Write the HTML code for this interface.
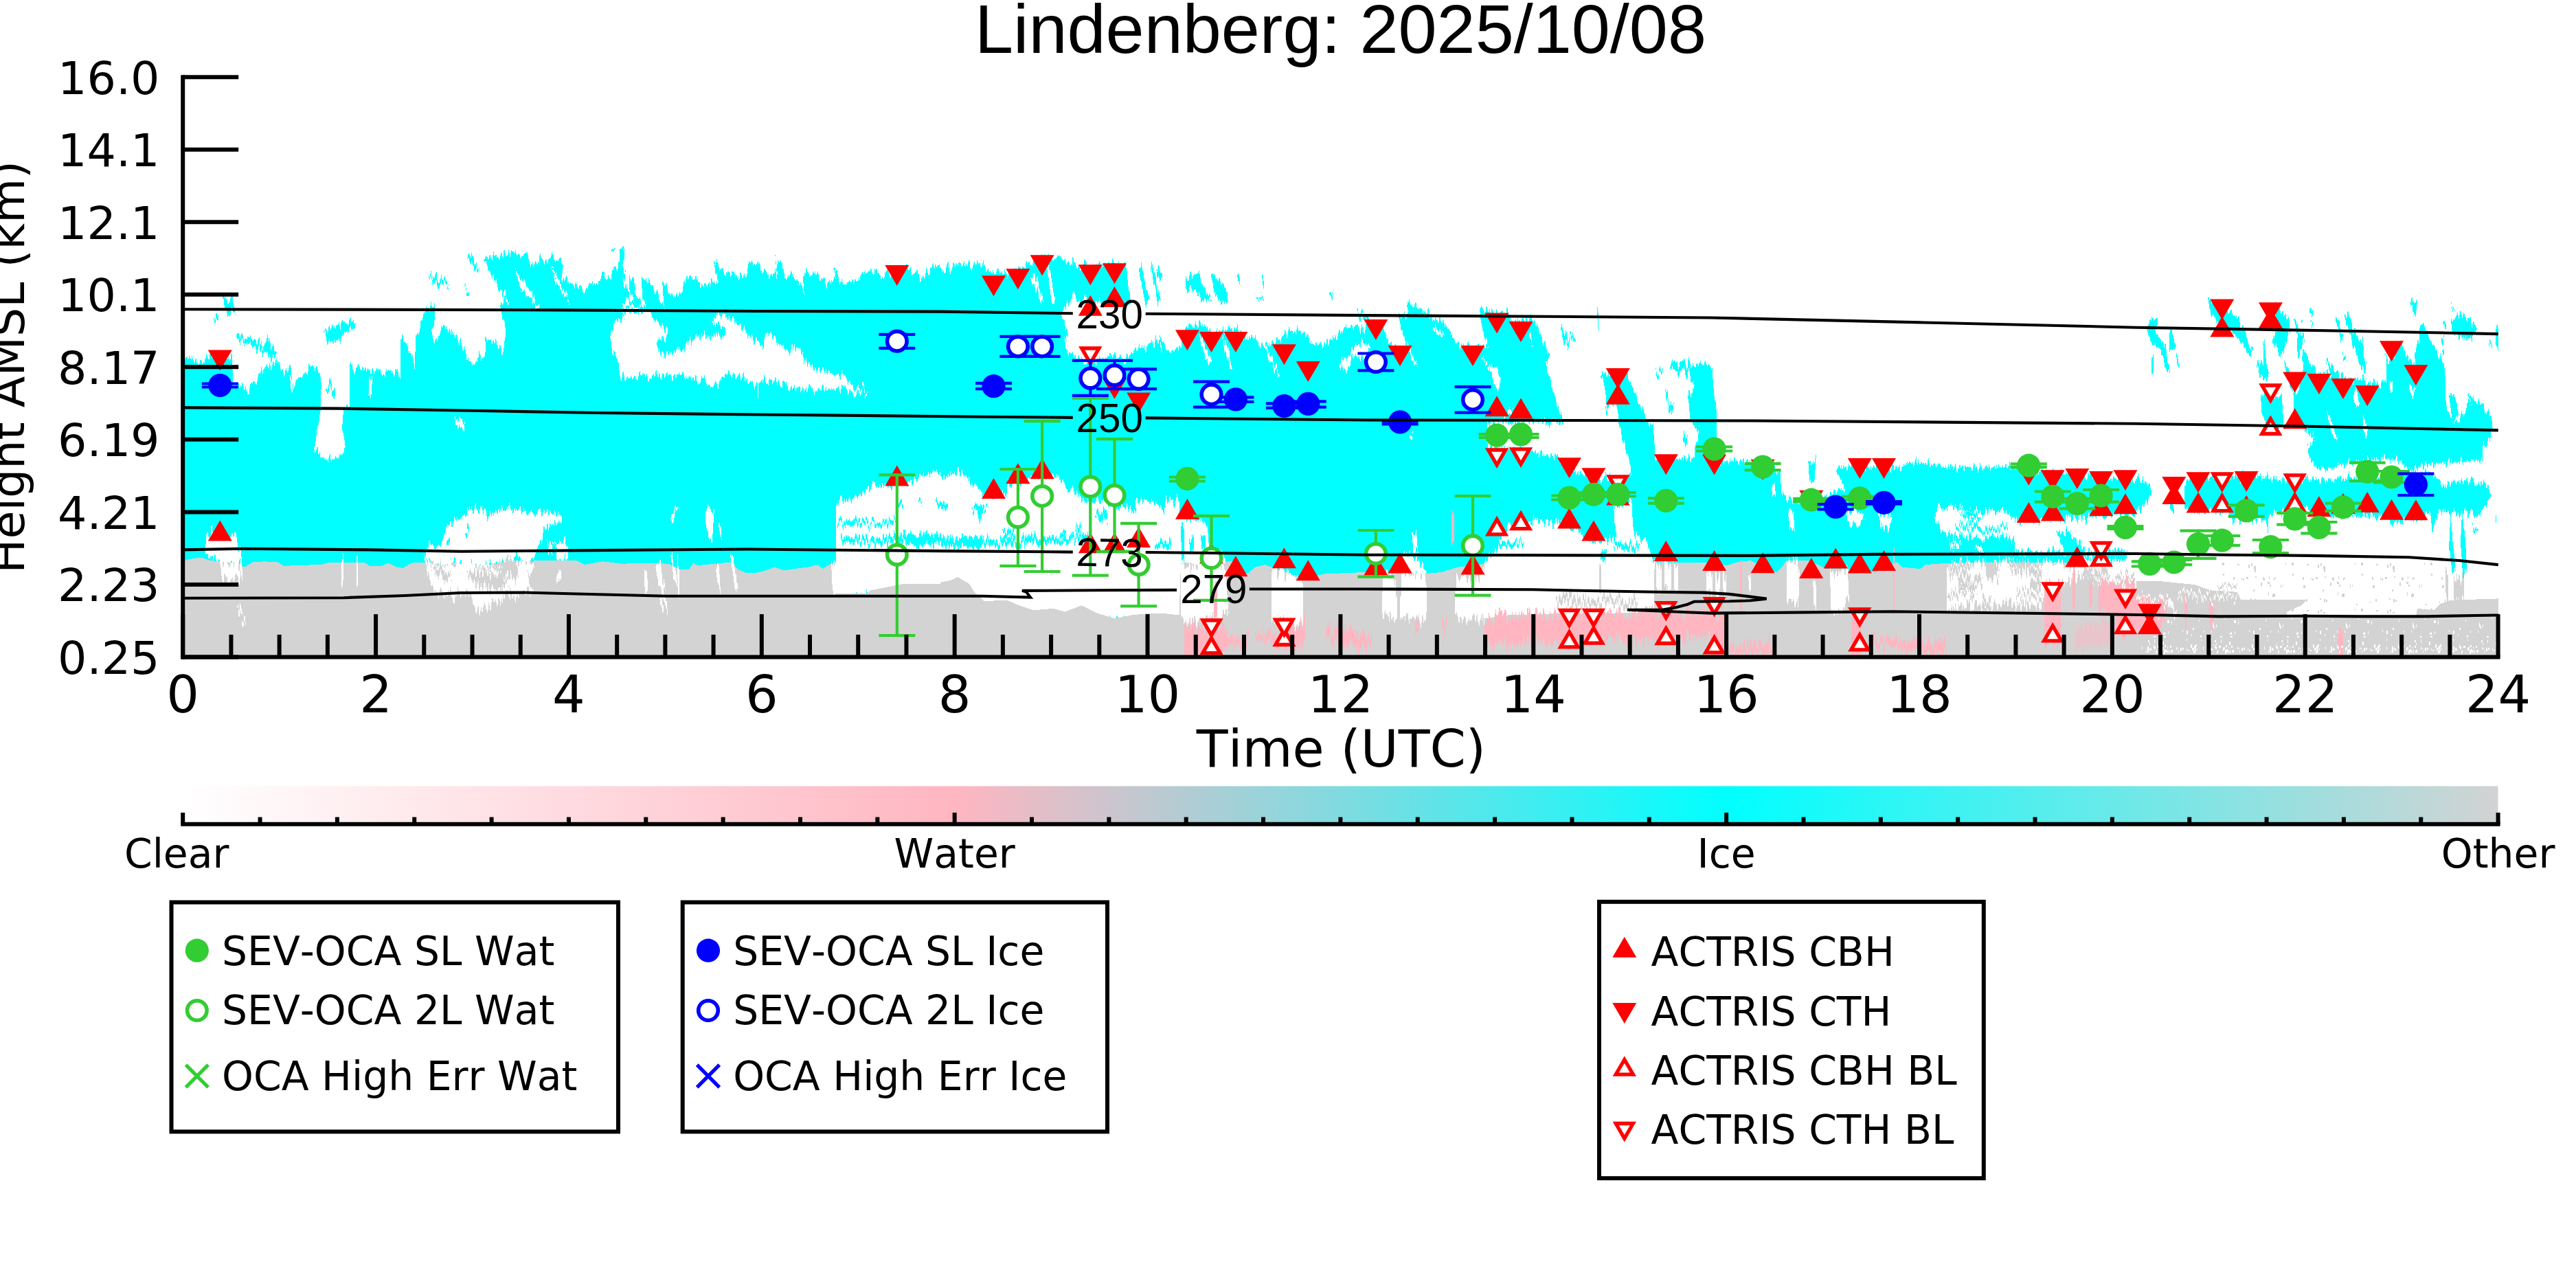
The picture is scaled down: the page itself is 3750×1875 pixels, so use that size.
<!DOCTYPE html>
<html><head><meta charset="utf-8"><title>Lindenberg: 2025/10/08</title>
<style>
html,body{margin:0;padding:0;background:#fff;}
svg{display:block;}
text{font-family:"DejaVu Sans","Liberation Sans",sans-serif;fill:#000;font-kerning:none;}
.lib{font-family:"Liberation Sans","DejaVu Sans",sans-serif;}
</style></head><body>
<svg width="3750" height="1875" viewBox="0 0 3750 1875">
<rect width="3750" height="1875" fill="#fff"/>
<defs>
<clipPath id="ax"><rect x="266.2" y="112.3" width="3371.0" height="844.1"/></clipPath>
<linearGradient id="cb" x1="0" x2="1" y1="0" y2="0">
<stop offset="0" stop-color="#ffffff"/><stop offset="0.3333" stop-color="#ffb6c1"/>
<stop offset="0.6667" stop-color="#00ffff"/><stop offset="1" stop-color="#d3d3d3"/>
</linearGradient>
<filter id="hair" filterUnits="userSpaceOnUse" x="266.2" y="112.3" width="3371.4" height="844.1" color-interpolation-filters="sRGB">
<feTurbulence type="fractalNoise" baseFrequency="0.33 0.006" numOctaves="2" seed="7" result="n"/>
<feColorMatrix in="n" type="matrix" values="0 0 0 0 0.5  0 1 0 0 0  0 0 1 0 0  0 0 0 0 1" result="n2"/>
<feDisplacementMap in="SourceGraphic" in2="n2" scale="30" xChannelSelector="R" yChannelSelector="G"/>
</filter>
<filter id="hair2" filterUnits="userSpaceOnUse" x="266.2" y="112.3" width="3371.4" height="844.1" color-interpolation-filters="sRGB">
<feTurbulence type="fractalNoise" baseFrequency="0.4 0.004" numOctaves="2" seed="11" result="n"/>
<feColorMatrix in="n" type="matrix" values="0 0 0 0 0.5  0 1 0 0 0  0 0 1 0 0  0 0 0 0 1" result="n2"/>
<feDisplacementMap in="SourceGraphic" in2="n2" scale="44" xChannelSelector="R" yChannelSelector="G"/>
</filter>
<pattern id="spk1" width="97" height="41" patternUnits="userSpaceOnUse"><rect x="79" y="16" width="2" height="5" fill="#fff"/><rect x="3" y="29" width="1" height="2" fill="#fff"/><rect x="20" y="7" width="2" height="4" fill="#fff"/><rect x="31" y="24" width="3" height="2" fill="#fff"/><rect x="73" y="15" width="1" height="3" fill="#fff"/><rect x="52" y="17" width="1" height="4" fill="#fff"/><rect x="20" y="4" width="1" height="5" fill="#fff"/><rect x="79" y="28" width="1" height="3" fill="#fff"/><rect x="0" y="0" width="1" height="3" fill="#fff"/><rect x="21" y="10" width="2" height="3" fill="#fff"/><rect x="25" y="34" width="1" height="3" fill="#fff"/><rect x="88" y="12" width="2" height="3" fill="#fff"/><rect x="2" y="23" width="2" height="3" fill="#fff"/><rect x="18" y="16" width="1" height="3" fill="#fff"/><rect x="38" y="37" width="1" height="5" fill="#fff"/><rect x="86" y="21" width="1" height="3" fill="#fff"/><rect x="45" y="19" width="2" height="3" fill="#fff"/><rect x="23" y="30" width="2" height="3" fill="#fff"/><rect x="7" y="16" width="1" height="3" fill="#fff"/><rect x="51" y="1" width="3" height="4" fill="#fff"/><rect x="46" y="24" width="3" height="2" fill="#fff"/><rect x="57" y="2" width="1" height="5" fill="#fff"/><rect x="25" y="7" width="1" height="4" fill="#fff"/><rect x="44" y="32" width="2" height="5" fill="#fff"/><rect x="32" y="29" width="1" height="5" fill="#fff"/><rect x="47" y="18" width="1" height="4" fill="#fff"/></pattern><pattern id="spk2" width="89" height="14" patternUnits="userSpaceOnUse"><rect x="11" y="3" width="2" height="5" fill="#fff"/><rect x="78" y="5" width="1" height="3" fill="#fff"/><rect x="35" y="8" width="1" height="3" fill="#fff"/><rect x="40" y="4" width="1" height="2" fill="#fff"/><rect x="80" y="2" width="2" height="4" fill="#fff"/><rect x="20" y="0" width="1" height="5" fill="#fff"/><rect x="68" y="6" width="1" height="3" fill="#fff"/><rect x="76" y="5" width="2" height="4" fill="#fff"/><rect x="83" y="6" width="1" height="2" fill="#fff"/><rect x="81" y="0" width="2" height="3" fill="#fff"/><rect x="26" y="2" width="3" height="3" fill="#fff"/><rect x="80" y="6" width="1" height="3" fill="#fff"/><rect x="55" y="5" width="1" height="2" fill="#fff"/><rect x="53" y="4" width="1" height="4" fill="#fff"/><rect x="79" y="2" width="3" height="4" fill="#fff"/><rect x="62" y="5" width="2" height="3" fill="#fff"/><rect x="37" y="7" width="2" height="3" fill="#fff"/><rect x="14" y="6" width="3" height="3" fill="#fff"/><rect x="80" y="7" width="2" height="3" fill="#fff"/><rect x="11" y="7" width="2" height="5" fill="#fff"/><rect x="70" y="8" width="2" height="2" fill="#fff"/><rect x="45" y="9" width="1" height="3" fill="#fff"/><rect x="46" y="8" width="2" height="4" fill="#fff"/><rect x="33" y="4" width="2" height="3" fill="#fff"/><rect x="74" y="0" width="2" height="5" fill="#fff"/><rect x="32" y="5" width="2" height="4" fill="#fff"/><rect x="36" y="8" width="2" height="3" fill="#fff"/><rect x="35" y="10" width="2" height="4" fill="#fff"/><rect x="44" y="2" width="2" height="3" fill="#fff"/><rect x="42" y="8" width="1" height="5" fill="#fff"/><rect x="21" y="3" width="2" height="4" fill="#fff"/><rect x="36" y="1" width="2" height="3" fill="#fff"/><rect x="78" y="9" width="3" height="4" fill="#fff"/><rect x="38" y="9" width="3" height="3" fill="#fff"/><rect x="3" y="3" width="1" height="5" fill="#fff"/><rect x="56" y="9" width="1" height="3" fill="#fff"/><rect x="23" y="10" width="1" height="4" fill="#fff"/><rect x="28" y="2" width="1" height="3" fill="#fff"/><rect x="14" y="5" width="1" height="4" fill="#fff"/><rect x="24" y="8" width="1" height="4" fill="#fff"/><rect x="59" y="5" width="2" height="5" fill="#fff"/><rect x="9" y="9" width="1" height="3" fill="#fff"/></pattern><pattern id="spk3" width="101" height="67" patternUnits="userSpaceOnUse"><rect x="91" y="47" width="1" height="3" fill="#d3d3d3"/><rect x="51" y="35" width="2" height="2" fill="#d3d3d3"/><rect x="88" y="47" width="1" height="5" fill="#d3d3d3"/><rect x="78" y="38" width="1" height="3" fill="#d3d3d3"/><rect x="69" y="43" width="3" height="3" fill="#d3d3d3"/><rect x="45" y="16" width="2" height="4" fill="#d3d3d3"/><rect x="72" y="47" width="2" height="3" fill="#d3d3d3"/><rect x="20" y="48" width="3" height="4" fill="#d3d3d3"/><rect x="25" y="17" width="3" height="2" fill="#d3d3d3"/><rect x="44" y="0" width="2" height="2" fill="#d3d3d3"/><rect x="41" y="18" width="2" height="5" fill="#d3d3d3"/><rect x="48" y="54" width="2" height="3" fill="#d3d3d3"/><rect x="63" y="37" width="2" height="4" fill="#d3d3d3"/><rect x="49" y="20" width="3" height="5" fill="#d3d3d3"/><rect x="33" y="38" width="2" height="3" fill="#d3d3d3"/><rect x="53" y="2" width="2" height="3" fill="#d3d3d3"/><rect x="62" y="36" width="1" height="4" fill="#d3d3d3"/><rect x="3" y="15" width="3" height="4" fill="#d3d3d3"/><rect x="31" y="37" width="1" height="3" fill="#d3d3d3"/><rect x="50" y="1" width="2" height="5" fill="#d3d3d3"/><rect x="71" y="35" width="1" height="4" fill="#d3d3d3"/><rect x="4" y="31" width="2" height="3" fill="#d3d3d3"/><rect x="19" y="36" width="2" height="4" fill="#d3d3d3"/><rect x="77" y="60" width="3" height="5" fill="#d3d3d3"/><rect x="95" y="15" width="1" height="3" fill="#d3d3d3"/><rect x="38" y="36" width="3" height="3" fill="#d3d3d3"/><rect x="78" y="37" width="3" height="2" fill="#d3d3d3"/><rect x="59" y="44" width="2" height="5" fill="#d3d3d3"/><rect x="16" y="4" width="1" height="3" fill="#d3d3d3"/><rect x="70" y="58" width="1" height="5" fill="#d3d3d3"/><rect x="24" y="1" width="2" height="4" fill="#d3d3d3"/><rect x="76" y="61" width="2" height="4" fill="#d3d3d3"/><rect x="50" y="25" width="2" height="4" fill="#d3d3d3"/><rect x="97" y="8" width="2" height="2" fill="#d3d3d3"/></pattern>
</defs>
<g clip-path="url(#ax)"><g filter="url(#hair)" shape-rendering="crispEdges">
<polygon fill="#00ffff" points="263.2,522.9 274.1,519.3 286.1,528.9 298.1,522.9 304.2,516.9 337.9,522.9 339.1,556.6 346.3,563.8 360.7,571.1 370.3,556.6 381.2,537.4 394.4,530.1 404.0,525.3 413.7,542.2 423.3,535.0 426.9,566.2 432.9,551.8 442.5,544.6 452.2,535.0 461.8,535.0 467.8,549.4 508.7,533.8 522.0,536.2 538.8,539.8 550.9,539.8 562.9,542.2 574.9,539.8 583.3,547.0 583.3,494.0 591.8,498.9 603.8,532.5 605.0,489.2 611.0,479.6 618.2,455.5 632.7,441.1 632.7,465.2 627.9,484.4 632.7,498.9 644.7,477.2 654.4,479.6 664.0,491.6 673.6,503.7 683.2,522.9 691.7,535.0 695.3,518.1 707.3,516.9 706.1,496.4 716.9,494.0 729.0,508.5 733.8,510.9 736.2,484.4 731.4,455.5 727.8,445.9 731.4,436.3 743.4,443.5 719.3,407.4 703.7,376.1 729.0,371.3 753.0,368.9 767.5,371.3 772.3,385.7 786.7,376.1 815.6,376.1 820.4,388.1 803.6,395.4 827.6,412.2 851.7,424.2 858.9,412.2 870.0,417.0 870.0,962.0 263.2,962.0"/>
<polygon fill="#00ffff" points="323.4,432.7 336.6,432.7 342.7,455.5 334.2,455.5 327.0,445.9"/>
<polygon fill="#00ffff" points="311.4,461.5 319.8,465.2 316.2,471.2 311.4,465.2"/>
<polygon fill="#00ffff" points="343.9,484.4 358.3,491.6 370.3,494.0 384.8,503.7 389.6,491.6 404.0,518.1 394.4,520.5 387.2,513.3 375.2,508.5 358.3,498.9 345.1,494.0"/>
<polygon fill="#00ffff" points="470.2,483.2 485.9,474.8 502.7,470.0 509.9,466.4 518.4,471.2 514.8,479.6 505.1,480.8 497.9,491.6 484.7,498.9 475.0,496.4 473.8,484.4"/>
<polygon fill="#00ffff" points="624.3,400.2 635.1,403.8 654.4,417.0 651.9,419.4 635.1,414.6 625.5,405.0"/>
<polygon fill="#00ffff" points="679.6,373.7 686.8,372.5 698.9,396.6 692.9,393.0 683.2,380.9"/>
<polygon fill="#00ffff" points="674.8,418.2 683.2,426.6 683.2,431.5 677.2,424.2"/>
<polygon fill="#00ffff" points="810.0,412.2 817.2,405.0 829.3,409.8 841.3,421.8 855.7,431.5 858.1,417.0 870.2,412.2 872.6,401.4 889.4,405.0 891.8,388.1 901.5,385.7 902.7,360.5 909.9,361.7 906.3,390.5 911.1,397.8 906.3,409.8 915.9,424.2 915.9,400.2 923.1,402.6 925.5,421.8 935.2,441.1 934.0,402.6 944.8,412.2 954.4,424.2 966.4,445.9 964.0,409.8 978.5,426.6 992.9,424.2 995.3,407.4 1002.5,401.4 1012.2,405.0 1021.8,412.2 1026.6,417.0 1038.7,409.8 1045.9,419.4 1041.1,395.4 1038.7,383.3 1050.7,391.7 1062.7,397.8 1074.8,400.2 1086.8,402.6 1089.2,385.7 1106.0,383.3 1113.3,397.8 1125.3,400.2 1132.5,395.4 1127.7,378.5 1137.3,388.1 1144.6,400.2 1151.8,399.0 1161.4,409.8 1171.0,426.6 1168.6,400.2 1190.3,400.2 1199.9,409.8 1209.5,412.2 1216.8,407.4 1213.1,394.2 1219.2,397.8 1226.4,414.6 1233.6,412.2 1243.2,409.8 1255.3,402.6 1262.5,393.0 1279.3,397.8 1291.4,401.4 1322.7,385.7 1334.7,397.8 1339.5,403.8 1351.5,395.4 1358.8,390.5 1373.2,395.4 1373.2,962.0 810.0,962.0"/>
<polygon fill="#00ffff" points="810.0,376.1 819.6,380.9 817.2,405.0 810.0,412.2"/>
<polygon fill="#00ffff" points="889.4,360.5 895.4,360.5 894.2,365.3 890.6,364.1"/>
<polygon fill="#00ffff" points="1370.0,393.0 1398.9,385.7 1427.8,388.1 1449.4,395.4 1466.3,400.2 1495.2,385.7 1504.8,378.5 1538.5,373.7 1557.7,380.9 1572.2,385.7 1605.9,385.7 1639.6,385.7 1642.0,412.2 1646.8,441.1 1634.8,441.1 1610.7,441.1 1569.8,436.3 1562.5,429.1 1552.9,441.1 1549.3,453.1 1543.3,455.5 1550.5,474.8 1555.3,486.8 1549.3,496.4 1552.9,510.9 1562.5,515.7 1569.8,522.9 1579.4,527.7 1610.7,520.5 1622.7,515.7 1634.8,525.3 1654.0,508.5 1670.9,503.7 1687.7,494.0 1690.1,508.5 1707.0,513.3 1719.0,503.7 1726.2,474.8 1755.1,472.4 1764.7,484.4 1798.4,477.2 1815.3,494.0 1827.3,489.2 1832.1,503.7 1846.6,501.3 1863.4,494.0 1880.3,479.6 1899.5,484.4 1913.9,503.7 1923.6,498.9 1932.0,508.5 1932.0,962.0 1370.0,962.0"/>
<polygon fill="#00ffff" points="1657.6,385.7 1662.4,388.1 1673.3,436.3 1668.4,441.1 1661.2,412.2"/>
<polygon fill="#00ffff" points="1674.5,385.7 1678.1,388.1 1690.1,441.1 1685.3,438.7"/>
<polygon fill="#00ffff" points="1682.9,390.5 1687.7,391.7 1692.5,407.4 1687.7,412.2"/>
<polygon fill="#00ffff" points="1726.2,405.0 1745.5,397.8 1755.1,419.4 1764.7,431.5 1747.9,433.9 1738.2,421.8 1726.2,421.8"/>
<polygon fill="#00ffff" points="1762.3,395.4 1774.4,405.0 1786.4,421.8 1787.6,438.7 1776.8,438.7 1767.1,421.8 1764.7,407.4"/>
<polygon fill="#00ffff" points="1800.8,401.4 1804.4,402.6 1805.6,414.6 1802.0,412.2"/>
<polygon fill="#00ffff" points="1836.9,400.2 1839.3,401.4 1840.5,414.6 1838.1,412.2"/>
<polygon fill="#00ffff" points="1828.5,431.0 1840.5,430.3 1839.3,433.9 1828.5,434.3"/>
<polygon fill="#00ffff" points="1935.6,429.1 1941.6,429.5 1940.9,434.3 1936.1,433.9"/>
<polygon fill="#00ffff" points="1654.0,508.5 1658.8,506.1 1673.3,532.5 1668.4,535.0"/>
<polygon fill="#00ffff" points="1670.9,501.3 1675.7,500.1 1690.1,530.1 1685.3,532.5"/>
<polygon fill="#00ffff" points="1687.7,492.8 1692.5,494.0 1702.1,522.9 1697.3,525.3"/>
<polygon fill="#00ffff" points="1930.0,496.4 1942.0,494.0 1951.7,484.4 1956.5,477.2 1978.1,474.8 1986.6,484.4 1990.2,465.2 1978.1,460.3 1974.5,454.3 1980.5,454.3 1992.6,465.2 2011.8,474.8 2035.9,460.3 2035.9,455.5 2050.3,460.3 2047.9,445.9 2060.0,439.9 2064.8,450.7 2081.6,451.9 2079.2,460.3 2098.5,465.2 2108.1,479.6 2117.7,496.4 2129.8,503.7 2161.1,503.7 2167.1,506.1 2161.1,489.2 2156.2,470.0 2153.8,450.7 2158.7,445.9 2165.9,455.5 2194.8,455.5 2197.2,467.6 2221.2,467.6 2222.4,464.0 2233.3,465.2 2240.5,484.4 2250.1,503.7 2256.1,513.3 2250.1,527.7 2257.3,547.0 2258.5,566.2 2267.0,585.5 2274.2,607.2 2276.6,613.2 2164.7,614.4 2164.7,650.0 2164.7,650.0 2230.9,657.2 2248.9,662.0 2267.0,664.4 2293.4,686.8 2309.1,692.1 2339.2,695.7 2372.9,693.3 2387.3,700.5 2389.7,683.7 2401.7,674.1 2409.0,669.3 2459.5,666.8 2492.0,664.4 2492.0,962.0 1930.0,962.0"/>
<polygon fill="#00ffff" points="1934.8,429.1 1940.8,430.3 1940.8,435.1 1936.0,433.9"/>
<polygon fill="#00ffff" points="2329.5,544.6 2339.2,543.4 2370.5,544.6 2375.3,561.4 2382.5,580.7 2392.1,597.5 2395.7,613.2 2406.6,621.6 2409.0,650.0 2365.6,650.0 2356.0,619.2 2356.0,604.8 2353.6,590.3 2339.2,590.3 2336.8,571.1 2334.4,556.6"/>
<polygon fill="#00ffff" points="2430.6,532.5 2437.8,526.5 2478.8,530.1 2492.0,537.4 2493.2,556.6 2495.6,580.7 2498.0,604.8 2499.2,628.8 2490.8,650.0 2466.7,650.0 2473.9,628.8 2459.5,604.8 2457.1,580.7 2466.7,556.6 2459.5,544.6 2442.7,539.8 2433.0,539.8"/>
<polygon fill="#00ffff" points="2410.2,539.8 2421.0,536.2 2419.8,542.2 2411.4,545.8"/>
<polygon fill="#00ffff" points="2423.4,568.7 2430.6,585.5 2437.8,595.1 2433.0,601.1 2425.8,585.5"/>
<polygon fill="#00ffff" points="2271.8,477.2 2276.6,482.0 2286.2,496.4 2283.8,501.3 2276.6,498.9 2273.0,486.8"/>
<polygon fill="#00ffff" points="2283.8,486.8 2291.0,489.2 2294.6,496.4 2288.6,496.4"/>
<polygon fill="#00ffff" points="2324.7,453.1 2327.1,454.3 2327.6,477.2 2325.9,474.8"/>
<polygon fill="#00ffff" points="2449.9,638.4 2457.1,633.6 2454.7,648.1 2451.1,650.0"/>
<polygon fill="#00ffff" points="2336.8,592.7 2339.2,591.5 2340.4,601.1 2338.0,599.9"/>
<polygon fill="#00ffff" points="2365.6,650.0 2409.0,650.0 2409.0,671.7 2401.7,676.5 2389.7,686.1 2387.3,701.7 2375.3,695.7 2370.5,664.4"/>
<polygon fill="#00ffff" points="2466.7,650.0 2492.0,650.0 2492.0,666.8 2466.7,668.1"/>
<polygon fill="#00ffff" points="2490.0,671.7 2514.1,670.5 2538.1,670.5 2591.1,686.1 2634.4,671.7 2641.6,671.7 2644.0,668.1 2672.9,680.1 2694.6,678.9 2766.8,681.3 2778.8,672.9 2802.9,674.1 2827.0,678.9 2875.1,681.3 2899.2,680.1 2935.3,678.9 2947.3,683.7 3052.0,693.3 3052.0,962.0 2490.0,962.0"/>
<polygon fill="#00ffff" points="2490.0,536.2 2492.4,537.4 2493.6,556.6 2498.4,590.3 2499.6,650.0 2490.0,650.0"/>
<polygon fill="#00ffff" points="3213.7,433.9 3218.5,432.7 3232.9,453.1 3249.8,453.1 3259.4,462.7 3261.8,474.8 3269.0,482.0 3273.8,503.7 3281.1,506.1 3276.2,515.7 3261.8,498.9 3249.8,482.0 3235.3,474.8 3225.7,467.6 3218.5,453.1"/>
<polygon fill="#00ffff" points="3124.6,472.4 3131.8,466.4 3140.3,465.2 3141.5,474.8 3136.6,484.4 3146.3,494.0 3153.5,508.5 3155.9,527.7 3159.5,542.2 3151.1,537.4 3151.1,527.7 3146.3,508.5 3134.2,503.7 3127.0,484.4"/>
<polygon fill="#00ffff" points="3158.3,479.6 3161.9,482.0 3167.9,508.5 3158.3,508.5"/>
<polygon fill="#00ffff" points="3131.8,516.9 3135.4,516.9 3135.4,545.8 3131.8,539.8"/>
<polygon fill="#00ffff" points="3167.9,513.3 3170.3,518.1 3172.7,535.0 3169.1,530.1"/>
<polygon fill="#00ffff" points="3311.1,438.7 3314.8,441.1 3322.0,453.1 3331.6,462.7 3334.0,479.6 3329.2,494.0 3322.0,518.1 3317.2,518.1 3314.8,506.1 3307.5,498.9 3308.7,491.6 3314.8,479.6 3312.3,455.5"/>
<polygon fill="#00ffff" points="3338.8,466.4 3343.6,470.0 3350.9,489.2 3355.7,491.6 3346.0,518.1 3343.6,508.5 3344.8,489.2"/>
<polygon fill="#00ffff" points="3294.3,494.0 3296.7,494.0 3297.9,522.9 3302.7,544.6 3300.3,556.6 3290.7,544.6 3284.7,527.7 3288.3,525.3 3295.5,530.1"/>
<polygon fill="#00ffff" points="3338.8,571.1 3350.9,556.6 3353.3,539.8 3350.9,520.5 3355.7,508.5 3362.9,527.7 3374.9,544.6 3394.2,544.6 3387.0,530.1 3384.6,524.1 3396.6,532.5 3406.2,547.0 3425.5,551.8 3435.1,556.6 3444.7,551.8 3435.1,532.5 3427.9,508.5 3420.7,489.2 3415.8,470.0 3412.2,457.9 3418.2,460.3 3425.5,479.6 3435.1,494.0 3439.9,496.4 3441.1,522.9 3444.7,527.7 3442.3,544.6 3444.7,561.4 3464.0,561.4 3473.6,556.6 3473.6,520.5 3468.8,513.3 3478.4,522.9 3497.7,496.4 3500.1,513.3 3507.3,522.9 3516.9,530.1 3514.5,513.3 3521.7,494.0 3521.7,474.8 3531.4,472.4 3533.8,489.2 3543.4,503.7 3550.6,518.1 3557.8,532.5 3560.3,556.6 3560.3,580.7 3565.1,604.8 3579.5,614.4 3589.1,595.1 3593.9,580.7 3591.5,571.1 3598.8,583.1 3610.8,587.9 3622.8,602.3 3627.6,616.8 3627.6,626.4 3630.1,626.4 3620.4,650.0 3360.5,650.0 3370.1,640.9 3358.1,626.4 3355.7,624.0 3338.8,604.8"/>
<polygon fill="#00ffff" points="3290.7,571.1 3322.0,580.7 3324.4,604.8 3322.0,624.0 3300.3,624.0 3293.1,599.9"/>
<polygon fill="#00ffff" points="3324.4,522.9 3326.8,525.3 3334.0,544.6 3338.8,571.1 3335.2,566.2 3329.2,544.6"/>
<polygon fill="#00ffff" points="3507.3,439.9 3519.3,441.1 3516.9,460.3 3512.1,453.1"/>
<polygon fill="#00ffff" points="3567.5,443.5 3573.5,449.5 3569.9,449.5"/>
<polygon fill="#00ffff" points="3555.4,467.6 3561.5,470.0 3560.3,479.6"/>
<polygon fill="#00ffff" points="3567.5,467.6 3579.5,456.7 3593.9,462.7 3606.0,479.6 3603.6,486.8 3591.5,494.0 3579.5,489.2 3569.9,482.0"/>
<polygon fill="#00ffff" points="3632.5,479.6 3636.8,473.6 3636.8,508.5 3633.7,506.1"/>
<polygon fill="#00ffff" points="3622.8,497.6 3627.6,498.9 3627.6,503.7 3622.8,503.2"/>
<polygon fill="#00ffff" points="3554.2,490.4 3557.8,489.2 3556.6,501.3 3554.2,498.9"/>
<polygon fill="#00ffff" points="3555.4,508.5 3558.3,509.7 3558.3,518.1 3555.9,516.9"/>
<polygon fill="#00ffff" points="3361.7,450.7 3366.5,450.7 3367.7,459.1 3362.9,457.9"/>
<polygon fill="#00ffff" points="3362.9,467.6 3367.7,470.0 3366.5,474.8"/>
<polygon fill="#00ffff" points="3349.7,464.0 3352.1,464.0 3351.3,471.2"/>
<polygon fill="#00ffff" points="3409.8,518.1 3415.8,519.3 3414.6,524.1 3409.8,522.9"/>
<polygon fill="#00ffff" points="3399.0,460.3 3401.4,461.5 3406.2,474.8 3411.0,494.0 3409.8,498.9 3403.8,479.6"/>
<polygon fill="#00ffff" points="3565.1,577.1 3572.3,565.0 3574.7,580.7 3579.5,604.8 3569.9,609.6"/>
<polygon fill="#00ffff" points="3593.9,571.1 3597.6,569.9 3603.6,585.5 3600.0,585.5"/>
<polygon fill="#ffffff" points="467.8,549.4 508.7,533.8 508.7,592.7 500.3,595.1 497.9,624.0 502.7,650.0 457.0,650.0 464.2,616.8 466.6,590.3"/>
<polygon fill="#ffffff" points="661.6,612.0 668.8,609.6 677.2,616.8 674.8,627.6 668.8,621.6 661.6,616.8"/>
<polygon fill="#ffffff" points="749.4,394.2 755.4,397.8 779.5,436.3 777.1,441.1 760.3,419.4"/>
<polygon fill="#ffffff" points="801.2,396.6 810.8,402.6 830.1,441.1 825.2,436.3"/>
<polygon fill="#ffffff" points="760.3,414.6 786.7,445.9 783.1,447.1 757.8,419.4"/>
<polygon fill="#ffffff" points="422.1,551.8 426.9,549.4 425.7,568.7 422.8,567.4"/>
<polygon fill="#ffffff" points="537.6,551.8 542.4,549.4 540.0,581.9 536.4,578.3"/>
<polygon fill="#ffffff" points="457.0,650.0 502.7,650.0 500.3,659.6 490.7,666.8 476.2,669.3 467.8,664.4 459.4,654.8"/>
<polygon fill="#ffffff" points="621.9,796.8 625.5,792.0 635.1,798.0 644.7,787.2 649.5,765.5 659.2,763.1 678.4,746.3 692.9,740.3 707.3,743.9 712.1,753.5 731.4,742.7 738.6,737.1 745.8,742.7 769.9,742.7 779.5,746.3 818.0,746.3 818.0,755.9 810.8,758.3 803.6,763.1 791.5,772.7 787.9,789.6 779.5,804.0 772.3,818.5 760.3,816.1 750.6,806.4 748.2,816.1 707.3,823.3 659.2,818.5 644.7,823.3 625.5,818.5 617.0,808.9"/>
<polygon fill="#ffffff" points="300.5,780.0 306.6,777.6 307.8,763.1 310.2,777.6 340.3,780.0 341.5,770.3 345.1,780.0 346.3,799.2 351.1,804.0 352.3,818.5 322.2,818.5 319.8,816.1 298.1,806.4"/>
<polygon fill="#ffffff" points="796.4,792.0 825.2,792.0 827.6,813.7 820.4,816.1 798.8,804.0"/>
<polygon fill="#ffffff" points="905.1,455.5 908.7,462.7 896.6,467.6 891.8,474.8 888.2,489.2 890.6,506.1 895.4,513.3 901.5,539.8 906.3,549.4 915.9,544.6 923.1,551.8 944.8,547.0 964.0,544.6 978.5,547.0 997.7,547.0 1014.6,551.8 1026.6,551.8 1036.2,561.4 1044.7,561.4 1050.7,551.8 1057.9,547.0 1067.5,543.4 1082.0,549.4 1094.0,556.6 1103.6,561.4 1110.9,555.4 1130.1,559.0 1147.0,561.4 1156.6,565.0 1175.8,563.8 1195.1,567.4 1219.2,566.2 1243.2,569.9 1264.9,572.3 1260.1,567.4 1243.2,561.4 1233.6,554.2 1224.0,547.0 1207.1,543.4 1190.3,537.4 1175.8,530.1 1171.0,520.5 1163.8,508.5 1157.8,503.7 1147.0,512.1 1134.9,501.3 1127.7,491.6 1120.5,483.2 1114.5,486.8 1112.1,506.1 1103.6,496.4 1096.4,496.4 1086.8,484.4 1077.2,474.8 1062.7,462.7 1053.1,457.9 1041.1,460.3 1036.2,470.0 1050.7,474.8 1056.7,482.0 1055.5,491.6 1041.1,486.8 1031.4,491.6 1021.8,488.0 1009.8,494.0 997.7,498.9 996.5,513.3 988.1,508.5 976.1,513.3 968.9,518.1 959.2,510.9 955.6,498.9 959.2,491.6 971.3,494.0 972.5,484.4 964.0,474.8 952.0,465.2 942.4,453.1 906.3,453.1"/>
<polygon fill="#ffffff" points="905.1,449.5 909.9,436.3 920.7,442.3 941.2,448.8"/>
<polygon fill="#ffffff" points="907.5,409.8 912.3,407.4 923.1,436.3 919.5,438.7"/>
<polygon fill="#ffffff" points="923.1,419.4 927.9,417.0 941.2,447.1 936.4,445.9"/>
<polygon fill="#ffffff" points="952.0,417.0 956.8,419.4 968.9,447.1 965.2,445.9"/>
<polygon fill="#ffffff" points="1102.9,561.4 1104.6,561.4 1104.1,581.9 1103.2,581.9"/>
<polygon fill="#ffffff" points="1216.8,736.6 1224.0,727.0 1243.2,727.0 1255.3,719.8 1267.3,710.2 1276.9,704.2 1289.0,707.8 1327.5,703.0 1339.5,693.3 1363.6,686.1 1375.6,700.5 1392.5,686.1 1411.7,698.1 1430.0,719.8 1430.0,866.6 1216.8,866.6"/>
<polygon fill="#ffffff" points="1027.8,746.3 1033.8,741.5 1039.9,748.7 1036.2,789.6 1031.4,784.8 1026.6,763.1"/>
<polygon fill="#ffffff" points="1045.9,763.1 1049.5,765.5 1050.7,784.8 1047.1,775.2"/>
<polygon fill="#ffffff" points="976.1,755.9 980.9,741.5 989.3,739.1 983.3,746.3 978.5,763.1"/>
<polygon fill="#ffffff" points="810.0,789.6 819.6,786.0 826.8,794.4 826.8,813.7 817.2,816.1 810.0,813.7"/>
<polygon fill="#ffffff" points="810.0,746.3 818.4,747.5 818.4,755.9 810.0,755.9"/>
<polygon fill="#ffffff" points="1500.0,400.2 1504.8,397.8 1519.2,436.3 1514.4,438.7"/>
<polygon fill="#ffffff" points="1524.0,393.0 1528.9,391.7 1536.1,436.3 1531.3,438.7"/>
<polygon fill="#ffffff" points="1745.5,494.0 1750.3,491.6 1764.7,530.1 1759.9,530.1"/>
<polygon fill="#ffffff" points="1779.2,494.0 1784.0,494.0 1793.6,532.5 1790.0,532.5"/>
<polygon fill="#ffffff" points="1841.7,508.5 1845.4,507.3 1863.4,547.0 1859.8,547.0"/>
<polygon fill="#ffffff" points="1370.0,698.1 1384.4,690.9 1396.5,686.1 1410.9,698.1 1418.1,712.6 1430.2,722.2 1463.9,719.8 1466.3,705.4 1500.0,695.7 1536.1,693.3 1543.3,695.7 1555.3,710.2 1569.8,719.8 1574.6,727.0 1608.3,729.4 1634.8,739.1 1654.0,746.3 1652.8,729.4 1685.3,730.6 1687.7,743.9 1694.9,746.3 1697.3,727.0 1707.0,731.8 1716.6,729.4 1716.6,751.1 1745.5,755.9 1757.5,765.5 1759.9,799.2 1779.2,804.0 1784.0,818.5 1784.0,902.7 1370.0,902.7"/>
<polygon fill="#ffffff" points="2011.8,474.8 2035.9,460.3 2043.1,489.2 2055.2,513.3 2064.8,539.8 2055.2,522.9 2050.3,508.5 2026.3,503.7 2021.5,496.4"/>
<polygon fill="#ffffff" points="1970.9,504.9 1983.0,498.9 1995.0,503.7 1990.2,513.3 1985.4,522.9 1968.5,518.1 1963.7,532.5 1958.9,539.8 1949.3,532.5 1951.7,525.3 1961.3,520.5"/>
<polygon fill="#ffffff" points="2156.2,518.1 2165.9,530.1 2177.9,532.5 2185.1,556.6 2180.3,571.1 2170.7,539.8 2161.1,527.7"/>
<polygon fill="#ffffff" points="2084.0,474.8 2088.9,473.6 2103.3,489.2 2098.5,490.4"/>
<polygon fill="#ffffff" points="2226.0,484.4 2229.7,494.0 2230.9,501.3 2227.2,496.4"/>
<polygon fill="#ffffff" points="2194.8,590.3 2202.0,592.7 2199.6,599.9 2194.8,597.5"/>
<polygon fill="#ffffff" points="2052.7,636.0 2057.6,628.8 2055.2,638.4 2051.5,642.1"/>
<polygon fill="#ffffff" points="2161.1,818.5 2170.7,804.0 2180.3,804.0 2182.7,784.8 2197.2,763.1 2230.9,758.3 2267.0,761.9 2298.2,770.3 2305.5,784.8 2339.2,788.4 2353.6,784.8 2351.2,765.5 2348.8,736.6 2375.3,729.4 2377.7,765.5 2380.1,780.0 2396.9,784.8 2401.7,804.0 2409.0,816.1 2411.4,902.7 2161.1,902.7"/>
<polygon fill="#ffffff" points="2038.3,808.9 2050.3,804.0 2064.8,816.1 2076.8,832.9 2074.4,837.7 2038.3,837.7"/>
<polygon fill="#ffffff" points="2055.2,775.2 2061.2,775.2 2064.8,804.0 2057.6,804.0"/>
<polygon fill="#ffffff" points="2591.1,686.1 2632.0,668.1 2634.4,698.1 2641.6,698.1 2644.0,668.1 2672.9,678.9 2675.3,690.9 2682.5,703.0 2687.4,710.2 2658.5,717.4 2624.8,729.4 2603.1,727.0 2593.5,717.4"/>
<polygon fill="#ffffff" points="2935.3,758.3 3110.0,751.1 3110.0,804.0 3091.7,808.9 3043.6,804.0 2995.4,804.0 2932.9,804.0 2932.9,784.8 2942.5,775.2"/>
<polygon fill="#ffffff" points="2816.1,746.3 2827.0,737.9 2839.0,736.6 2863.1,746.3 2899.2,743.9 2918.4,746.3 2935.3,755.9 2942.5,775.2 2935.3,784.8 2899.2,781.2 2851.0,782.4 2831.8,775.2 2819.7,765.5"/>
<polygon fill="#ffffff" points="2687.4,746.3 2706.6,741.5 2713.8,755.9 2701.8,765.5 2689.8,760.7"/>
<polygon fill="#ffffff" points="2733.1,751.1 2742.7,746.3 2754.8,751.1 2749.9,770.3 2737.9,765.5"/>
<polygon fill="#ffffff" points="2603.1,746.3 2610.3,743.9 2612.7,770.3 2605.5,775.2"/>
<polygon fill="#ffffff" points="2579.1,710.2 2583.9,710.2 2585.1,727.0 2580.3,727.0"/>
<polygon fill="#ffffff" points="2836.6,792.0 2851.0,790.8 2855.8,796.8 2839.0,799.2"/>
<polygon fill="#ffffff" points="2875.1,796.8 2884.7,792.0 2889.5,804.0 2877.5,804.0"/>
<polygon fill="#ffffff" points="3387.0,602.3 3391.8,604.8 3399.0,628.8 3403.8,640.9 3396.6,636.0"/>
<polygon fill="#ffffff" points="3439.9,609.6 3444.7,612.0 3447.1,636.0 3439.9,628.8"/>
<polygon fill="#ffffff" points="3425.5,571.1 3430.3,568.7 3435.1,592.7 3429.1,595.1"/>
<polygon fill="#ffffff" points="3478.4,556.6 3483.2,554.2 3483.2,571.1 3479.6,568.7"/>
<polygon fill="#ffffff" points="3507.3,561.4 3516.9,561.4 3512.1,573.5 3507.3,571.1"/>
<polygon fill="#ffffff" points="3324.4,580.7 3329.2,597.5 3329.2,614.4 3324.4,604.8"/>
<polygon fill="#00ffff" points="473.8,567.4 478.7,559.0 488.3,566.2 487.1,581.9 484.7,571.1 476.2,568.7"/>
<polygon fill="#00ffff" points="677.2,769.1 683.2,767.9 683.2,776.4 677.9,776.4"/>
<polygon fill="#00ffff" points="649.5,786.0 655.6,784.8 654.4,792.0 649.5,792.0"/>
<polygon fill="#00ffff" points="803.6,794.4 810.8,794.4 809.6,813.7 804.8,811.3"/>
<polygon fill="#00ffff" points="997.7,477.2 1014.6,473.6 1017.0,477.2 1002.5,480.8"/>
<polygon fill="#00ffff" points="1219.2,758.3 1243.2,757.1 1267.3,760.7 1301.0,757.1 1305.8,763.1 1267.3,765.5 1219.2,764.3"/>
<polygon fill="#00ffff" points="1224.0,781.2 1267.3,784.8 1303.4,781.2 1315.4,777.6 1339.5,775.2 1363.6,781.2 1387.6,782.4 1430.0,780.0 1430.0,788.4 1387.6,792.0 1351.5,794.4 1315.4,790.8 1267.3,792.0 1224.0,789.6"/>
<polygon fill="#00ffff" points="1305.8,731.8 1315.4,733.0 1314.2,739.1 1305.8,737.9"/>
<polygon fill="#00ffff" points="1361.2,731.8 1380.4,733.0 1379.2,740.3 1363.6,739.1"/>
<polygon fill="#00ffff" points="1337.1,727.0 1344.3,731.8 1338.3,733.0"/>
<polygon fill="#00ffff" points="1414.1,736.6 1430.0,739.1 1430.0,746.3 1416.5,742.7"/>
<polygon fill="#00ffff" points="1370.0,784.8 1394.1,783.6 1427.8,788.4 1466.3,784.8 1504.8,781.2 1538.5,782.4 1562.5,780.0 1584.2,777.6 1584.2,787.2 1538.5,789.6 1504.8,790.8 1466.3,794.4 1418.1,796.8 1370.0,794.4"/>
<polygon fill="#00ffff" points="1413.3,736.6 1439.8,737.9 1430.2,746.3 1426.6,763.1 1423.0,746.3"/>
<polygon fill="#00ffff" points="1370.0,734.2 1379.6,733.0 1379.6,740.3 1370.0,741.0"/>
<polygon fill="#00ffff" points="1459.1,775.2 1478.3,770.3 1475.9,780.0 1461.5,781.2"/>
<polygon fill="#00ffff" points="1593.8,746.3 1610.7,743.9 1613.1,758.3 1598.7,755.9"/>
<polygon fill="#00ffff" points="1680.5,792.0 1704.6,787.2 1704.6,796.8 1680.5,798.0"/>
<polygon fill="#00ffff" points="1719.0,765.5 1723.8,765.5 1724.3,818.5 1720.2,818.5"/>
<polygon fill="#00ffff" points="1731.0,784.8 1738.2,784.8 1738.2,804.0 1732.2,804.0"/>
<polygon fill="#00ffff" points="1747.9,780.0 1755.1,781.2 1755.1,799.2 1749.1,798.0"/>
<polygon fill="#00ffff" points="1543.3,770.3 1552.9,772.7 1550.5,780.0 1542.1,777.6"/>
<polygon fill="#00ffff" points="1565.0,767.9 1574.6,766.7 1573.4,775.2 1566.2,774.0"/>
<polygon fill="#00ffff" points="2180.3,789.6 2194.8,787.2 2218.8,792.0 2216.4,796.8 2194.8,794.4 2182.7,796.8"/>
<polygon fill="#00ffff" points="2348.8,792.0 2363.2,789.6 2387.3,794.4 2384.9,801.6 2363.2,799.2 2350.0,796.8"/>
<polygon fill="#00ffff" points="2329.5,801.6 2339.2,804.0 2336.8,818.5 2330.7,816.1"/>
<polygon fill="#00ffff" points="2401.7,804.0 2411.4,806.4 2411.4,816.1 2409.0,816.1"/>
<polygon fill="#00ffff" points="2846.2,767.9 2875.1,763.1 2899.2,770.3 2923.2,765.5 2923.2,770.3 2899.2,775.2 2875.1,770.3 2846.2,772.7"/>
<polygon fill="#00ffff" points="2993.0,775.2 3007.5,772.7 3019.5,784.8 3031.5,794.4 3033.9,804.0 3007.5,804.0 3000.3,789.6"/>
<polygon fill="#00ffff" points="2836.6,801.6 2875.1,800.4 2932.9,801.6 2995.4,804.0 3043.6,804.0 3091.7,808.9 3096.5,816.1 3043.6,816.1 2971.4,816.1 2899.2,816.1 2865.5,818.5 2836.6,818.5"/>
<polygon fill="#00ffff" points="2634.4,671.7 2641.6,671.7 2640.4,698.1 2635.6,695.7"/>
<polygon fill="#00ffff" points="2851.0,751.1 2865.5,746.3 2884.7,753.5 2879.9,758.3 2860.7,755.9"/>
</g><g shape-rendering="crispEdges">
<polygon fill="#d3d3d3" points="262.0,818.5 276.5,813.7 293.3,811.7 305.4,816.1 346.3,819.7 355.9,825.7 367.9,818.5 384.8,817.3 404.0,818.5 413.7,823.8 440.1,822.8 466.6,822.1 481.1,818.5 500.3,818.5 514.8,818.5 529.2,818.5 538.8,823.8 555.7,823.8 565.3,819.7 577.3,825.7 587.0,826.9 599.0,819.7 615.8,818.5 625.5,818.5 644.7,823.3 659.2,818.5 707.3,823.3 748.2,816.1 760.3,816.1 772.3,818.5 779.5,816.1 808.4,816.1 810.0,816.1 838.9,816.1 850.9,822.1 877.4,817.3 906.3,820.9 925.5,819.7 954.4,819.7 973.7,820.9 990.5,829.3 1002.5,829.3 1009.8,819.7 1014.6,823.3 1038.7,820.9 1050.7,819.7 1065.1,818.5 1074.8,829.3 1086.8,834.1 1098.8,834.1 1110.9,831.7 1127.7,825.7 1142.1,830.5 1156.6,828.1 1175.8,825.7 1190.3,822.1 1197.5,828.1 1209.5,820.9 1216.8,818.5 1216.8,864.2 1262.5,864.2 1267.3,859.4 1315.4,849.8 1368.4,849.8 1370.0,847.4 1384.4,845.0 1394.1,840.1 1410.9,849.8 1418.1,861.8 1432.6,875.0 1466.3,873.8 1483.1,881.1 1504.8,888.3 1533.7,885.9 1550.5,890.7 1574.6,881.1 1598.7,893.1 1622.7,900.3 1646.8,895.5 1670.9,893.1 1694.9,893.1 1716.6,895.5 1719.0,818.5 1731.0,818.5 1745.5,823.3 1779.2,823.3 1784.0,818.5 1793.6,816.1 1815.3,835.3 1827.3,825.7 1841.7,822.1 1851.4,825.7 1897.1,842.5 1928.4,835.3 1930.0,835.3 1978.1,833.4 2031.1,832.9 2074.4,835.3 2098.5,832.9 2122.5,825.7 2161.1,820.9 2161.1,900.3 2194.8,895.5 2267.0,893.1 2339.2,893.1 2411.4,890.7 2411.4,818.5 2459.5,818.5 2488.4,818.5 2490.0,818.5 2514.1,823.3 2528.5,818.5 2547.8,816.1 2586.3,832.9 2595.9,823.3 2600.7,816.1 2634.4,816.1 2658.5,828.1 2689.8,828.1 2730.7,832.9 2762.0,818.5 2769.2,825.7 2795.7,828.1 2802.9,822.1 2834.2,819.7 3048.4,818.5 3050.0,818.5 3054.8,847.4 3074.1,845.0 3146.3,846.2 3194.4,851.0 3218.5,859.4 3257.0,861.8 3261.8,872.6 3358.1,872.6 3350.9,881.1 3329.2,890.7 3329.2,896.7 3516.9,896.7 3519.3,885.9 3543.4,888.3 3553.0,878.7 3567.5,873.8 3636.8,871.4 3636.8,962.9 3636.8,970.0 262.0,970.0"/>
</g><g filter="url(#hair2)" shape-rendering="crispEdges">
<polygon fill="#ffffff" points="618.2,816.1 625.5,818.5 644.7,823.3 659.2,818.5 707.3,823.3 748.2,816.1 772.3,818.5 779.5,818.5 767.5,842.5 777.1,859.4 750.6,866.6 719.3,873.8 707.3,888.3 690.5,888.3 683.2,866.6 659.2,866.6 630.3,861.8"/>
<polygon fill="#ffffff" points="496.7,810.1 500.3,810.1 500.3,851.0 496.7,851.0"/>
<polygon fill="#ffffff" points="519.1,806.4 521.0,806.4 521.0,851.0 519.1,851.0"/>
<polygon fill="#ffffff" points="319.8,816.1 352.3,818.5 353.5,840.1 322.2,842.5"/>
<polygon fill="#ffffff" points="345.1,882.3 349.9,879.9 353.5,893.1 347.5,890.7"/>
<polygon fill="#ffffff" points="352.3,902.7 358.3,903.9 357.1,911.1 352.3,909.9"/>
<polygon fill="#ffffff" points="937.6,823.3 941.2,823.3 943.6,859.4 938.8,858.2"/>
<polygon fill="#ffffff" points="954.4,828.1 960.4,818.5 968.9,861.8 964.0,864.2 956.8,847.4"/>
<polygon fill="#ffffff" points="976.1,806.4 978.5,806.4 986.9,854.6 983.3,854.6"/>
<polygon fill="#ffffff" points="985.7,806.4 989.3,818.5 989.3,861.8 986.9,861.8"/>
<polygon fill="#ffffff" points="1042.3,823.3 1044.7,813.7 1049.5,859.4 1047.1,861.8"/>
<polygon fill="#ffffff" points="1062.7,813.7 1067.5,808.9 1074.8,859.4 1071.1,857.0"/>
<polygon fill="#ffffff" points="960.4,872.6 971.3,872.6 972.5,882.3 961.6,884.7"/>
<polygon fill="#ffffff" points="810.0,828.1 817.2,826.9 817.2,840.1 810.0,838.9"/>
<polygon fill="#ffffff" points="1209.5,818.5 1216.8,818.5 1216.8,864.2 1213.1,864.2"/>
<polygon fill="#ffffff" points="1851.4,825.7 1897.1,842.5 1897.1,900.3 1887.5,905.1 1851.4,900.3"/>
<polygon fill="#ffffff" points="1719.0,818.5 1745.5,823.3 1779.2,823.3 1784.0,837.7 1788.8,890.7 1779.2,900.3 1745.5,905.1 1726.2,900.3 1719.0,895.5"/>
<polygon fill="#ffffff" points="2013.0,840.1 2032.3,840.1 2032.3,866.6 2013.0,866.6"/>
<polygon fill="#ffffff" points="2039.5,835.3 2074.4,835.3 2076.8,866.6 2039.5,866.6"/>
<polygon fill="#ffffff" points="2120.1,842.5 2161.1,832.9 2161.1,866.6 2120.1,866.6"/>
<polygon fill="#ffffff" points="2411.4,823.3 2442.7,823.3 2442.7,859.4 2411.4,859.4"/>
<polygon fill="#ffffff" points="2483.6,832.9 2512.5,832.9 2512.5,861.8 2483.6,861.8"/>
<polygon fill="#ffffff" points="2011.8,866.6 2033.5,866.6 2033.5,900.3 2011.8,900.3"/>
<polygon fill="#ffffff" points="2038.3,866.6 2076.8,866.6 2076.8,900.3 2038.3,900.3"/>
<polygon fill="#ffffff" points="2117.7,866.6 2161.1,866.6 2161.1,900.3 2117.7,900.3"/>
<polygon fill="#ffffff" points="2600.7,823.3 2615.2,816.1 2620.0,830.5 2617.6,878.7 2600.7,878.7"/>
<polygon fill="#ffffff" points="2663.3,830.5 2689.8,832.9 2692.2,866.6 2682.5,890.7 2665.7,888.3"/>
<polygon fill="#ffffff" points="2834.2,818.5 3110.0,818.5 3110.0,849.8 3067.6,847.4 3007.5,840.1 2973.8,878.7 2834.2,883.5"/>
<polygon fill="#ffffff" points="2639.2,842.5 2644.0,842.5 2644.0,878.7 2640.4,878.7"/>
<polygon fill="#ffffff" points="2545.4,837.7 2549.0,837.7 2549.0,861.8 2545.8,861.8"/>
<polygon fill="#ffffff" points="3110.2,869.0 3158.3,871.4 3170.3,888.3 3165.5,890.7 3151.1,876.2 3110.2,872.6"/>
<polygon fill="#ffffff" points="3050.0,818.5 3054.8,818.5 3057.2,847.4 3050.0,847.4"/>
<polygon fill="#ffffff" points="3170.3,861.8 3218.5,866.6 3257.0,871.4 3257.0,875.0 3218.5,871.4 3170.3,866.6"/>
<polygon fill="#d3d3d3" points="678.4,840.1 695.3,832.9 721.7,835.3 733.8,828.1 707.3,825.7 731.4,818.5 750.6,816.1 755.4,832.9 750.6,840.1 731.4,842.5 743.4,854.6 707.3,857.0 688.0,849.8"/>
<polygon fill="#d3d3d3" points="625.5,823.3 644.7,828.1 659.2,842.5 649.5,845.0 635.1,835.3"/>
<polygon fill="#d3d3d3" points="2264.6,869.0 2291.0,867.8 2305.5,871.4 2339.2,870.2 2384.9,871.4 2382.5,881.1 2339.2,878.7 2305.5,881.1 2267.0,878.7"/>
<polygon fill="#d3d3d3" points="2328.3,818.5 2330.7,818.5 2330.7,857.0 2328.3,857.0"/>
<polygon fill="#d3d3d3" points="2407.8,818.5 2411.4,818.5 2411.4,890.7 2407.8,890.7"/>
<polygon fill="#d3d3d3" points="2418.6,823.3 2423.4,823.3 2423.4,859.4 2418.6,859.4"/>
<polygon fill="#d3d3d3" points="2433.0,823.3 2436.6,823.3 2436.6,859.4 2433.0,859.4"/>
<polygon fill="#d3d3d3" points="2493.2,832.9 2496.8,832.9 2496.8,861.8 2493.2,861.8"/>
<polygon fill="#d3d3d3" points="2504.0,832.9 2507.6,832.9 2507.6,861.8 2504.0,861.8"/>
<polygon fill="#d3d3d3" points="2851.0,842.5 2884.7,840.1 2887.1,849.8 2851.0,857.0"/>
<polygon fill="#d3d3d3" points="2935.3,859.4 2971.4,861.8 2973.8,869.0 2935.3,866.6"/>
<polygon fill="#d3d3d3" points="2884.7,871.4 2899.2,866.6 2896.8,878.7 2884.7,878.7"/>
<polygon fill="#d3d3d3" points="2836.6,823.3 2865.5,822.1 2870.3,832.9 2839.0,835.3"/>
<polygon fill="#d3d3d3" points="2887.1,818.5 2904.0,818.5 2911.2,840.1 2899.2,842.5 2891.9,832.9"/>
<polygon fill="#d3d3d3" points="2923.2,823.3 2947.3,818.5 2973.8,825.7 2971.4,835.3 2947.3,830.5 2925.6,832.9"/>
<polygon fill="#d3d3d3" points="2834.2,859.4 2875.1,857.0 2879.9,864.2 2836.6,866.6"/>
<polygon fill="#d3d3d3" points="3031.5,832.9 3067.6,830.5 3072.5,842.5 3033.9,842.5"/>
<polygon fill="#d3d3d3" points="2954.5,840.1 2971.4,840.1 2971.4,854.6 2955.7,854.6"/>
<polygon fill="#d3d3d3" points="3078.9,835.3 3107.8,840.1 3107.8,845.0 3081.3,842.5"/>
<polygon fill="#d3d3d3" points="3560.3,835.3 3563.9,835.3 3563.9,873.8 3560.3,873.8"/>
<polygon fill="#d3d3d3" points="3572.3,840.1 3586.7,840.1 3586.7,873.8 3572.3,873.8"/>
<polygon fill="#d3d3d3" points="3228.1,854.6 3257.0,857.0 3257.0,860.6 3228.1,858.2"/>
<polygon fill="#ffb6c1" points="1723.8,902.7 1738.2,912.3 1745.5,914.8 1779.2,912.3 1788.8,926.8 1817.7,929.2 1817.7,938.8 1788.8,941.2 1779.2,950.9 1745.5,960.0 1723.8,960.0"/>
<polygon fill="#ffb6c1" points="1827.3,924.4 1851.4,922.0 1899.5,905.1 1899.5,938.8 1875.4,941.2 1827.3,931.6"/>
<polygon fill="#ffb6c1" points="1930.8,919.6 1959.7,914.8 1959.7,926.8 1930.8,929.2"/>
<polygon fill="#ffb6c1" points="1947.6,931.6 1990.0,936.4 1990.0,946.0 1947.6,938.8"/>
<polygon fill="#ffb6c1" points="1767.1,849.8 1771.9,849.8 1771.9,900.3 1767.1,900.3"/>
<polygon fill="#ffb6c1" points="2161.1,900.3 2194.8,895.5 2267.0,893.1 2339.2,893.1 2411.4,890.7 2490.8,892.6 2490.8,927.3 2411.4,931.6 2339.2,931.6 2267.0,934.0 2218.8,934.0 2194.8,938.8 2161.1,938.8"/>
<polygon fill="#ffb6c1" points="1930.0,914.8 1958.9,917.2 1997.4,929.2 1997.4,938.8 1954.1,936.4 1930.0,926.8"/>
<polygon fill="#ffb6c1" points="2060.0,905.1 2064.8,905.1 2064.8,922.0 2060.0,922.0"/>
<polygon fill="#ffb6c1" points="2098.5,902.7 2105.7,902.7 2105.7,914.8 2098.5,914.8"/>
<polygon fill="#ffb6c1" points="2112.9,743.9 2116.5,743.9 2116.5,784.8 2112.9,784.8"/>
<polygon fill="#ffb6c1" points="2490.0,894.3 2511.7,894.3 2511.7,960.0 2490.0,960.0"/>
<polygon fill="#ffb6c1" points="2516.5,938.8 2581.5,936.4 2581.5,953.3 2516.5,953.3"/>
<polygon fill="#ffb6c1" points="2694.6,890.7 2709.0,890.7 2709.0,960.0 2694.6,960.0"/>
<polygon fill="#ffb6c1" points="2721.1,926.8 2766.8,931.6 2834.2,936.4 2834.2,953.3 2798.1,950.9 2721.1,936.4"/>
<polygon fill="#ffb6c1" points="2976.2,849.8 3000.3,849.8 3000.3,938.8 2976.2,938.8"/>
<polygon fill="#ffb6c1" points="3077.3,849.8 3110.0,847.4 3110.0,893.1 3077.3,893.1"/>
<polygon fill="#ffb6c1" points="2756.0,804.0 2758.4,804.0 2758.4,890.7 2756.0,890.7"/>
<polygon fill="#ffb6c1" points="2533.3,818.5 2535.7,818.5 2535.7,890.7 2533.3,890.7"/>
<polygon fill="#ffb6c1" points="3017.1,828.1 3020.7,828.1 3020.7,890.7 3017.1,890.7"/>
<polygon fill="#ffb6c1" points="3041.2,854.6 3046.0,854.6 3046.0,890.7 3041.2,890.7"/>
<polygon fill="#ffb6c1" points="3058.0,852.2 3062.8,852.2 3062.8,890.7 3058.0,890.7"/>
<polygon fill="#e9c4ca" points="3019.5,914.8 3077.3,902.7 3077.3,938.8 3019.5,943.6"/>
<polygon fill="#ffb6c1" points="3054.8,849.8 3076.5,847.4 3076.5,894.3 3054.8,894.3"/>
<polygon fill="#ffb6c1" points="3078.9,871.4 3155.9,876.2 3146.3,914.8 3078.9,922.0"/>
<polygon fill="#ffb6c1" points="3180.0,871.4 3184.8,871.4 3184.8,905.1 3180.0,905.1"/>
<polygon fill="#ffb6c1" points="3216.1,871.4 3223.3,871.4 3223.3,905.1 3216.1,905.1"/>
<polygon fill="#ffb6c1" points="3402.6,914.8 3411.0,914.8 3411.0,953.3 3402.6,953.3"/>
</g><g shape-rendering="crispEdges">
<rect x="3115" y="899" width="522" height="40" fill="url(#spk1)"/>
<rect x="3115" y="938" width="522" height="14" fill="url(#spk2)"/>
<rect x="3230" y="815" width="330" height="78" fill="url(#spk3)"/>
</g><g filter="url(#hair)" shape-rendering="crispEdges">
<polygon fill="#00ffff" points="3050.0,698.1 3110.2,695.7 3129.4,705.4 3133.0,710.2 3127.0,729.4 3122.2,734.2 3112.6,746.3 3050.0,751.1"/>
<polygon fill="#00ffff" points="3180.0,734.2 3180.0,705.4 3194.4,695.7 3290.7,693.3 3314.8,698.1 3350.9,698.1 3387.0,698.1 3420.7,693.3 3459.2,695.7 3507.3,688.5 3543.4,690.9 3555.4,705.4 3591.5,700.5 3615.6,703.0 3626.4,712.6 3622.8,729.4 3615.6,741.5 3603.6,751.1 3591.5,746.3 3579.5,751.1 3567.5,746.3 3555.4,741.5 3543.4,758.3 3541.0,775.2 3538.6,751.1 3507.3,755.9 3483.2,763.1 3478.4,753.5 3435.1,746.3 3399.0,751.1 3362.9,743.9 3326.8,741.5 3302.7,751.1 3301.5,775.2 3297.9,755.9 3266.6,755.9 3249.8,758.3 3242.5,746.3 3218.5,743.9 3206.4,746.3 3184.8,743.9"/>
<polygon fill="#00ffff" points="3358.1,650.0 3362.9,664.4 3367.7,678.9 3387.0,683.7 3399.0,678.9 3420.7,674.1 3444.7,671.7 3459.2,669.3 3473.6,666.8 3495.3,671.7 3507.3,686.1 3521.7,678.9 3555.4,674.1 3591.5,671.7 3614.4,669.3 3614.4,650.0"/>
<polygon fill="#00ffff" points="3567.5,746.3 3571.1,794.4 3574.7,832.9 3569.9,835.3 3565.1,794.4"/>
<polygon fill="#00ffff" points="3584.3,746.3 3589.1,794.4 3591.5,830.5 3585.5,840.1 3581.9,794.4"/>
<polygon fill="#00ffff" points="3598.8,765.5 3608.4,770.3 3606.0,774.0 3600.0,771.5"/>
<polygon fill="#00ffff" points="3632.5,751.1 3634.4,751.1 3634.4,760.7 3632.5,760.7"/>
<polygon fill="#00ffff" points="3158.3,731.8 3165.5,734.2 3163.1,748.7 3159.5,741.5"/>
<polygon fill="#00ffff" points="3069.3,801.6 3098.1,799.2 3093.3,813.7 3074.1,816.1 3066.8,808.9"/>
</g></g>
<g clip-path="url(#ax)">
<polygon fill="#ff0000" points="320.3,757.5 302.8,787.5 337.8,787.5"/>
<polygon fill="#ff0000" points="1305.8,677.5 1288.3,707.5 1323.3,707.5"/>
<polygon fill="#ff0000" points="1446.5,696.1 1429.0,726.1 1464.0,726.1"/>
<polygon fill="#ff0000" points="1481.9,674.2 1464.4,704.2 1499.4,704.2"/>
<polygon fill="#ff0000" points="1517.1,667.2 1499.6,697.2 1534.6,697.2"/>
<polygon fill="#ff0000" points="1587.3,429.7 1569.8,459.7 1604.8,459.7"/>
<polygon fill="#ff0000" points="1622.5,416.9 1605.0,446.9 1640.0,446.9"/>
<polygon fill="#ff0000" points="1587.3,775.3 1569.8,805.3 1604.8,805.3"/>
<polygon fill="#ff0000" points="1622.5,775.3 1605.0,805.3 1640.0,805.3"/>
<polygon fill="#ff0000" points="1657.6,767.1 1640.1,797.1 1675.1,797.1"/>
<polygon fill="#ff0000" points="1728.4,725.9 1710.9,755.9 1745.9,755.9"/>
<polygon fill="#ff0000" points="1763.5,790.5 1746.0,820.5 1781.0,820.5"/>
<polygon fill="#ff0000" points="1798.9,809.2 1781.4,839.2 1816.4,839.2"/>
<polygon fill="#ff0000" points="1869.4,797.2 1851.9,827.2 1886.9,827.2"/>
<polygon fill="#ff0000" points="1904.3,815.3 1886.8,845.3 1921.8,845.3"/>
<polygon fill="#ff0000" points="2179.1,576.3 2161.6,606.3 2196.6,606.3"/>
<polygon fill="#ff0000" points="2214.0,579.5 2196.5,609.5 2231.5,609.5"/>
<polygon fill="#ff0000" points="2355.3,558.7 2337.8,588.7 2372.8,588.7"/>
<polygon fill="#ff0000" points="2002.9,807.4 1985.4,837.4 2020.4,837.4"/>
<polygon fill="#ff0000" points="2038.1,804.4 2020.6,834.4 2055.6,834.4"/>
<polygon fill="#ff0000" points="2144.0,806.4 2126.5,836.4 2161.5,836.4"/>
<polygon fill="#ff0000" points="2284.5,739.5 2267.0,769.5 2302.0,769.5"/>
<polygon fill="#ff0000" points="2319.9,757.5 2302.4,787.5 2337.4,787.5"/>
<polygon fill="#ff0000" points="2425.3,786.9 2407.8,816.9 2442.8,816.9"/>
<polygon fill="#ff0000" points="2495.6,801.0 2478.1,831.0 2513.1,831.0"/>
<polygon fill="#ff0000" points="2566.1,804.2 2548.6,834.2 2583.6,834.2"/>
<polygon fill="#ff0000" points="2636.8,811.9 2619.3,841.9 2654.3,841.9"/>
<polygon fill="#ff0000" points="2672.2,797.4 2654.7,827.4 2689.7,827.4"/>
<polygon fill="#ff0000" points="2707.3,804.4 2689.8,834.4 2724.8,834.4"/>
<polygon fill="#ff0000" points="2742.5,801.0 2725.0,831.0 2760.0,831.0"/>
<polygon fill="#ff0000" points="2953.3,730.9 2935.8,760.9 2970.8,760.9"/>
<polygon fill="#ff0000" points="2988.2,728.4 2970.7,758.4 3005.7,758.4"/>
<polygon fill="#ff0000" points="3023.8,795.6 3006.3,825.6 3041.3,825.6"/>
<polygon fill="#ff0000" points="3058.7,721.2 3041.2,751.2 3076.2,751.2"/>
<polygon fill="#ff0000" points="3094.0,718.3 3076.5,748.3 3111.5,748.3"/>
<polygon fill="#ff0000" points="3164.8,703.9 3147.3,733.9 3182.3,733.9"/>
<polygon fill="#ff0000" points="3200.0,716.4 3182.5,746.4 3217.5,746.4"/>
<polygon fill="#ff0000" points="3270.2,720.9 3252.7,750.9 3287.7,750.9"/>
<polygon fill="#ff0000" points="3375.9,722.2 3358.4,752.2 3393.4,752.2"/>
<polygon fill="#ff0000" points="3411.0,718.0 3393.5,748.0 3428.5,748.0"/>
<polygon fill="#ff0000" points="3446.2,715.9 3428.7,745.9 3463.7,745.9"/>
<polygon fill="#ff0000" points="3481.5,726.7 3464.0,756.7 3499.0,756.7"/>
<polygon fill="#ff0000" points="3516.9,727.3 3499.4,757.3 3534.4,757.3"/>
<polygon fill="#ff0000" points="3234.8,460.5 3217.3,490.5 3252.3,490.5"/>
<polygon fill="#ff0000" points="3305.4,448.0 3287.9,478.0 3322.9,478.0"/>
<polygon fill="#ff0000" points="3340.7,594.3 3323.2,624.3 3358.2,624.3"/>
<polygon fill="#ff0000" points="3129.4,893.3 3111.9,923.3 3146.9,923.3"/>
<polygon fill="#ff0000" points="320.3,539.6 302.8,509.6 337.8,509.6"/>
<polygon fill="#ff0000" points="1305.8,416.1 1288.3,386.1 1323.3,386.1"/>
<polygon fill="#ff0000" points="1446.5,431.3 1429.0,401.3 1464.0,401.3"/>
<polygon fill="#ff0000" points="1481.9,421.2 1464.4,391.2 1499.4,391.2"/>
<polygon fill="#ff0000" points="1517.1,401.2 1499.6,371.2 1534.6,371.2"/>
<polygon fill="#ff0000" points="1587.3,415.2 1569.8,385.2 1604.8,385.2"/>
<polygon fill="#ff0000" points="1622.5,413.2 1605.0,383.2 1640.0,383.2"/>
<polygon fill="#ff0000" points="1728.4,510.2 1710.9,480.2 1745.9,480.2"/>
<polygon fill="#ff0000" points="1763.5,513.1 1746.0,483.1 1781.0,483.1"/>
<polygon fill="#ff0000" points="1798.9,513.1 1781.4,483.1 1816.4,483.1"/>
<polygon fill="#ff0000" points="1869.4,531.2 1851.9,501.2 1886.9,501.2"/>
<polygon fill="#ff0000" points="1904.3,556.0 1886.8,526.0 1921.8,526.0"/>
<polygon fill="#ff0000" points="1622.5,580.8 1605.0,550.8 1640.0,550.8"/>
<polygon fill="#ff0000" points="1657.6,601.5 1640.1,571.5 1675.1,571.5"/>
<polygon fill="#ff0000" points="2002.9,495.1 1985.4,465.1 2020.4,465.1"/>
<polygon fill="#ff0000" points="2038.1,533.1 2020.6,503.1 2055.6,503.1"/>
<polygon fill="#ff0000" points="2144.0,533.1 2126.5,503.1 2161.5,503.1"/>
<polygon fill="#ff0000" points="2179.1,485.4 2161.6,455.4 2196.6,455.4"/>
<polygon fill="#ff0000" points="2214.0,497.9 2196.5,467.9 2231.5,467.9"/>
<polygon fill="#ff0000" points="2355.3,566.1 2337.8,536.1 2372.8,536.1"/>
<polygon fill="#ff0000" points="2284.5,696.3 2267.0,666.3 2302.0,666.3"/>
<polygon fill="#ff0000" points="2319.9,711.2 2302.4,681.2 2337.4,681.2"/>
<polygon fill="#ff0000" points="2425.3,691.2 2407.8,661.2 2442.8,661.2"/>
<polygon fill="#ff0000" points="2495.6,691.5 2478.1,661.5 2513.1,661.5"/>
<polygon fill="#ff0000" points="2566.1,698.7 2548.6,668.7 2583.6,668.7"/>
<polygon fill="#ff0000" points="2636.8,743.7 2619.3,713.7 2654.3,713.7"/>
<polygon fill="#ff0000" points="2707.3,697.0 2689.8,667.0 2724.8,667.0"/>
<polygon fill="#ff0000" points="2742.5,697.0 2725.0,667.0 2760.0,667.0"/>
<polygon fill="#ff0000" points="2953.3,706.7 2935.8,676.7 2970.8,676.7"/>
<polygon fill="#ff0000" points="2988.2,714.3 2970.7,684.3 3005.7,684.3"/>
<polygon fill="#ff0000" points="3023.8,712.0 3006.3,682.0 3041.3,682.0"/>
<polygon fill="#ff0000" points="3058.7,716.0 3041.2,686.0 3076.2,686.0"/>
<polygon fill="#ff0000" points="3094.0,714.3 3076.5,684.3 3111.5,684.3"/>
<polygon fill="#ff0000" points="3164.8,723.9 3147.3,693.9 3182.3,693.9"/>
<polygon fill="#ff0000" points="3200.0,717.2 3182.5,687.2 3217.5,687.2"/>
<polygon fill="#ff0000" points="3270.2,716.0 3252.7,686.0 3287.7,686.0"/>
<polygon fill="#ff0000" points="3234.8,465.5 3217.3,435.5 3252.3,435.5"/>
<polygon fill="#ff0000" points="3305.4,470.3 3287.9,440.3 3322.9,440.3"/>
<polygon fill="#ff0000" points="3340.7,571.4 3323.2,541.4 3358.2,541.4"/>
<polygon fill="#ff0000" points="3375.9,574.0 3358.4,544.0 3393.4,544.0"/>
<polygon fill="#ff0000" points="3411.0,581.0 3393.5,551.0 3428.5,551.0"/>
<polygon fill="#ff0000" points="3446.2,591.3 3428.7,561.3 3463.7,561.3"/>
<polygon fill="#ff0000" points="3481.5,526.3 3464.0,496.3 3499.0,496.3"/>
<polygon fill="#ff0000" points="3516.9,561.2 3499.4,531.2 3534.4,531.2"/>
<polygon fill="#ff0000" points="3129.4,909.3 3111.9,879.3 3146.9,879.3"/>
<polygon fill="#fff" stroke="#ff0000" stroke-width="5.3" stroke-miterlimit="10" points="2179.1,756.0 2166.5,777.8 2191.7,777.8"/>
<polygon fill="#fff" stroke="#ff0000" stroke-width="5.3" stroke-miterlimit="10" points="2214.0,747.9 2201.4,769.6 2226.6,769.6"/>
<polygon fill="#fff" stroke="#ff0000" stroke-width="5.3" stroke-miterlimit="10" points="2355.3,711.0 2342.7,732.8 2367.9,732.8"/>
<polygon fill="#fff" stroke="#ff0000" stroke-width="5.3" stroke-miterlimit="10" points="1763.5,928.9 1750.9,950.6 1776.1,950.6"/>
<polygon fill="#fff" stroke="#ff0000" stroke-width="5.3" stroke-miterlimit="10" points="1869.4,916.8 1856.8,938.5 1882.0,938.5"/>
<polygon fill="#fff" stroke="#ff0000" stroke-width="5.3" stroke-miterlimit="10" points="2284.5,920.0 2271.9,941.8 2297.1,941.8"/>
<polygon fill="#fff" stroke="#ff0000" stroke-width="5.3" stroke-miterlimit="10" points="2319.9,914.4 2307.3,936.1 2332.5,936.1"/>
<polygon fill="#fff" stroke="#ff0000" stroke-width="5.3" stroke-miterlimit="10" points="2425.3,914.8 2412.7,936.5 2437.9,936.5"/>
<polygon fill="#fff" stroke="#ff0000" stroke-width="5.3" stroke-miterlimit="10" points="2495.6,928.1 2483.0,949.9 2508.2,949.9"/>
<polygon fill="#fff" stroke="#ff0000" stroke-width="5.3" stroke-miterlimit="10" points="2707.3,924.1 2694.7,945.9 2719.9,945.9"/>
<polygon fill="#fff" stroke="#ff0000" stroke-width="5.3" stroke-miterlimit="10" points="2988.2,911.0 2975.6,932.8 3000.8,932.8"/>
<polygon fill="#fff" stroke="#ff0000" stroke-width="5.3" stroke-miterlimit="10" points="3058.7,800.6 3046.1,822.4 3071.3,822.4"/>
<polygon fill="#fff" stroke="#ff0000" stroke-width="5.3" stroke-miterlimit="10" points="3094.0,898.8 3081.4,920.5 3106.6,920.5"/>
<polygon fill="#fff" stroke="#ff0000" stroke-width="5.3" stroke-miterlimit="10" points="3234.8,721.9 3222.2,743.6 3247.4,743.6"/>
<polygon fill="#fff" stroke="#ff0000" stroke-width="5.3" stroke-miterlimit="10" points="3340.7,720.7 3328.1,742.5 3353.3,742.5"/>
<polygon fill="#fff" stroke="#ff0000" stroke-width="5.3" stroke-miterlimit="10" points="3305.4,609.7 3292.8,631.5 3318.0,631.5"/>
<polygon fill="#fff" stroke="#ff0000" stroke-width="5.3" stroke-miterlimit="10" points="1587.3,528.8 1574.7,507.0 1599.9,507.0"/>
<polygon fill="#fff" stroke="#ff0000" stroke-width="5.3" stroke-miterlimit="10" points="2179.1,676.8 2166.5,655.0 2191.7,655.0"/>
<polygon fill="#fff" stroke="#ff0000" stroke-width="5.3" stroke-miterlimit="10" points="2214.0,675.6 2201.4,653.9 2226.6,653.9"/>
<polygon fill="#fff" stroke="#ff0000" stroke-width="5.3" stroke-miterlimit="10" points="2355.3,715.8 2342.7,694.0 2367.9,694.0"/>
<polygon fill="#fff" stroke="#ff0000" stroke-width="5.3" stroke-miterlimit="10" points="1763.5,924.7 1750.9,903.0 1776.1,903.0"/>
<polygon fill="#fff" stroke="#ff0000" stroke-width="5.3" stroke-miterlimit="10" points="1869.4,924.0 1856.8,902.2 1882.0,902.2"/>
<polygon fill="#fff" stroke="#ff0000" stroke-width="5.3" stroke-miterlimit="10" points="2284.5,910.3 2271.9,888.5 2297.1,888.5"/>
<polygon fill="#fff" stroke="#ff0000" stroke-width="5.3" stroke-miterlimit="10" points="2319.9,910.3 2307.3,888.5 2332.5,888.5"/>
<polygon fill="#fff" stroke="#ff0000" stroke-width="5.3" stroke-miterlimit="10" points="2425.3,899.4 2412.7,877.6 2437.9,877.6"/>
<polygon fill="#fff" stroke="#ff0000" stroke-width="5.3" stroke-miterlimit="10" points="2495.6,893.4 2483.0,871.6 2508.2,871.6"/>
<polygon fill="#fff" stroke="#ff0000" stroke-width="5.3" stroke-miterlimit="10" points="2707.3,908.6 2694.7,886.9 2719.9,886.9"/>
<polygon fill="#fff" stroke="#ff0000" stroke-width="5.3" stroke-miterlimit="10" points="2988.2,871.8 2975.6,850.0 3000.8,850.0"/>
<polygon fill="#fff" stroke="#ff0000" stroke-width="5.3" stroke-miterlimit="10" points="3058.7,812.1 3046.1,790.4 3071.3,790.4"/>
<polygon fill="#fff" stroke="#ff0000" stroke-width="5.3" stroke-miterlimit="10" points="3094.0,881.9 3081.4,860.1 3106.6,860.1"/>
<polygon fill="#fff" stroke="#ff0000" stroke-width="5.3" stroke-miterlimit="10" points="3234.8,711.7 3222.2,690.0 3247.4,690.0"/>
<polygon fill="#fff" stroke="#ff0000" stroke-width="5.3" stroke-miterlimit="10" points="3340.7,713.6 3328.1,691.9 3353.3,691.9"/>
<polygon fill="#fff" stroke="#ff0000" stroke-width="5.3" stroke-miterlimit="10" points="3305.4,582.7 3292.8,561.0 3318.0,561.0"/>
<g stroke="#32cd32" stroke-width="4.2" fill="none"><line x1="1728.4" y1="694.5" x2="1728.4" y2="700.5"/><line x1="1701.9" y1="694.5" x2="1754.9" y2="694.5"/><line x1="1701.9" y1="700.5" x2="1754.9" y2="700.5"/></g>
<circle cx="1728.4" cy="696.9" r="17.1" fill="#32cd32"/>
<g stroke="#32cd32" stroke-width="4.2" fill="none"><line x1="2179.1" y1="632.0" x2="2179.1" y2="636.8"/><line x1="2152.6" y1="632.0" x2="2205.6" y2="632.0"/><line x1="2152.6" y1="636.8" x2="2205.6" y2="636.8"/></g>
<circle cx="2179.1" cy="633.6" r="17.1" fill="#32cd32"/>
<g stroke="#32cd32" stroke-width="4.2" fill="none"><line x1="2214.0" y1="632.0" x2="2214.0" y2="636.8"/><line x1="2187.5" y1="632.0" x2="2240.5" y2="632.0"/><line x1="2187.5" y1="636.8" x2="2240.5" y2="636.8"/></g>
<circle cx="2214.0" cy="632.4" r="17.1" fill="#32cd32"/>
<g stroke="#32cd32" stroke-width="4.2" fill="none"><line x1="2284.5" y1="721.5" x2="2284.5" y2="727.5"/><line x1="2258.0" y1="721.5" x2="2311.0" y2="721.5"/><line x1="2258.0" y1="727.5" x2="2311.0" y2="727.5"/></g>
<circle cx="2284.5" cy="724.6" r="17.1" fill="#32cd32"/>
<g stroke="#32cd32" stroke-width="4.2" fill="none"><line x1="2319.9" y1="717.0" x2="2319.9" y2="722.5"/><line x1="2293.4" y1="717.0" x2="2346.4" y2="717.0"/><line x1="2293.4" y1="722.5" x2="2346.4" y2="722.5"/></g>
<circle cx="2319.9" cy="719.8" r="17.1" fill="#32cd32"/>
<g stroke="#32cd32" stroke-width="4.2" fill="none"><line x1="2355.3" y1="717.0" x2="2355.3" y2="722.5"/><line x1="2328.8" y1="717.0" x2="2381.8" y2="717.0"/><line x1="2328.8" y1="722.5" x2="2381.8" y2="722.5"/></g>
<circle cx="2355.3" cy="719.8" r="17.1" fill="#32cd32"/>
<g stroke="#32cd32" stroke-width="4.2" fill="none"><line x1="2425.3" y1="725.3" x2="2425.3" y2="732.6"/><line x1="2398.8" y1="725.3" x2="2451.8" y2="725.3"/><line x1="2398.8" y1="732.6" x2="2451.8" y2="732.6"/></g>
<circle cx="2425.3" cy="728.9" r="17.1" fill="#32cd32"/>
<g stroke="#32cd32" stroke-width="4.2" fill="none"><line x1="2495.6" y1="650.5" x2="2495.6" y2="656.5"/><line x1="2469.1" y1="650.5" x2="2522.1" y2="650.5"/><line x1="2469.1" y1="656.5" x2="2522.1" y2="656.5"/></g>
<circle cx="2495.6" cy="653.6" r="17.1" fill="#32cd32"/>
<g stroke="#32cd32" stroke-width="4.2" fill="none"><line x1="2566.1" y1="674.8" x2="2566.1" y2="684.4"/><line x1="2539.6" y1="674.8" x2="2592.6" y2="674.8"/><line x1="2539.6" y1="684.4" x2="2592.6" y2="684.4"/></g>
<circle cx="2566.1" cy="679.6" r="17.1" fill="#32cd32"/>
<g stroke="#32cd32" stroke-width="4.2" fill="none"><line x1="2636.8" y1="725.8" x2="2636.8" y2="729.9"/><line x1="2610.3" y1="725.8" x2="2663.3" y2="725.8"/><line x1="2610.3" y1="729.9" x2="2663.3" y2="729.9"/></g>
<circle cx="2636.8" cy="727.7" r="17.1" fill="#32cd32"/>
<g stroke="#32cd32" stroke-width="4.2" fill="none"><line x1="2707.3" y1="723.0" x2="2707.3" y2="727.5"/><line x1="2680.8" y1="723.0" x2="2733.8" y2="723.0"/><line x1="2680.8" y1="727.5" x2="2733.8" y2="727.5"/></g>
<circle cx="2707.3" cy="725.3" r="17.1" fill="#32cd32"/>
<g stroke="#32cd32" stroke-width="4.2" fill="none"><line x1="2953.3" y1="675.3" x2="2953.3" y2="680.1"/><line x1="2926.8" y1="675.3" x2="2979.8" y2="675.3"/><line x1="2926.8" y1="680.1" x2="2979.8" y2="680.1"/></g>
<circle cx="2953.3" cy="677.7" r="17.1" fill="#32cd32"/>
<g stroke="#32cd32" stroke-width="4.2" fill="none"><line x1="2988.2" y1="715.5" x2="2988.2" y2="730.6"/><line x1="2961.7" y1="715.5" x2="3014.7" y2="715.5"/><line x1="2961.7" y1="730.6" x2="3014.7" y2="730.6"/></g>
<circle cx="2988.2" cy="722.9" r="17.1" fill="#32cd32"/>
<g stroke="#32cd32" stroke-width="4.2" fill="none"><line x1="3023.8" y1="726.0" x2="3023.8" y2="740.3"/><line x1="2997.3" y1="726.0" x2="3050.3" y2="726.0"/><line x1="2997.3" y1="740.3" x2="3050.3" y2="740.3"/></g>
<circle cx="3023.8" cy="733.0" r="17.1" fill="#32cd32"/>
<g stroke="#32cd32" stroke-width="4.2" fill="none"><line x1="3058.7" y1="713.0" x2="3058.7" y2="730.6"/><line x1="3032.2" y1="713.0" x2="3085.2" y2="713.0"/><line x1="3032.2" y1="730.6" x2="3085.2" y2="730.6"/></g>
<circle cx="3058.7" cy="721.5" r="17.1" fill="#32cd32"/>
<g stroke="#32cd32" stroke-width="4.2" fill="none"><line x1="3094.0" y1="766.0" x2="3094.0" y2="770.0"/><line x1="3067.5" y1="766.0" x2="3120.5" y2="766.0"/><line x1="3067.5" y1="770.0" x2="3120.5" y2="770.0"/></g>
<circle cx="3094.0" cy="767.9" r="17.1" fill="#32cd32"/>
<g stroke="#32cd32" stroke-width="4.2" fill="none"><line x1="3129.4" y1="817.3" x2="3129.4" y2="824.5"/><line x1="3102.9" y1="817.3" x2="3155.9" y2="817.3"/><line x1="3102.9" y1="824.5" x2="3155.9" y2="824.5"/></g>
<circle cx="3129.4" cy="820.9" r="17.1" fill="#32cd32"/>
<g stroke="#32cd32" stroke-width="4.2" fill="none"><line x1="3164.8" y1="815.0" x2="3164.8" y2="822.1"/><line x1="3138.3" y1="815.0" x2="3191.3" y2="815.0"/><line x1="3138.3" y1="822.1" x2="3191.3" y2="822.1"/></g>
<circle cx="3164.8" cy="818.5" r="17.1" fill="#32cd32"/>
<g stroke="#32cd32" stroke-width="4.2" fill="none"><line x1="3200.0" y1="772.7" x2="3200.0" y2="812.9"/><line x1="3173.5" y1="772.7" x2="3226.5" y2="772.7"/><line x1="3173.5" y1="812.9" x2="3226.5" y2="812.9"/></g>
<circle cx="3200.0" cy="792.0" r="17.1" fill="#32cd32"/>
<g stroke="#32cd32" stroke-width="4.2" fill="none"><line x1="3234.8" y1="780.0" x2="3234.8" y2="793.9"/><line x1="3208.3" y1="780.0" x2="3261.3" y2="780.0"/><line x1="3208.3" y1="793.9" x2="3261.3" y2="793.9"/></g>
<circle cx="3234.8" cy="786.7" r="17.1" fill="#32cd32"/>
<g stroke="#32cd32" stroke-width="4.2" fill="none"><line x1="3270.2" y1="735.4" x2="3270.2" y2="751.8"/><line x1="3243.7" y1="735.4" x2="3296.7" y2="735.4"/><line x1="3243.7" y1="751.8" x2="3296.7" y2="751.8"/></g>
<circle cx="3270.2" cy="743.4" r="17.1" fill="#32cd32"/>
<g stroke="#32cd32" stroke-width="4.2" fill="none"><line x1="3305.4" y1="786.0" x2="3305.4" y2="805.2"/><line x1="3278.9" y1="786.0" x2="3331.9" y2="786.0"/><line x1="3278.9" y1="805.2" x2="3331.9" y2="805.2"/></g>
<circle cx="3305.4" cy="796.1" r="17.1" fill="#32cd32"/>
<g stroke="#32cd32" stroke-width="4.2" fill="none"><line x1="3340.7" y1="746.8" x2="3340.7" y2="763.6"/><line x1="3314.2" y1="746.8" x2="3367.2" y2="746.8"/><line x1="3314.2" y1="763.6" x2="3367.2" y2="763.6"/></g>
<circle cx="3340.7" cy="755.4" r="17.1" fill="#32cd32"/>
<g stroke="#32cd32" stroke-width="4.2" fill="none"><line x1="3375.9" y1="760.0" x2="3375.9" y2="776.4"/><line x1="3349.4" y1="760.0" x2="3402.4" y2="760.0"/><line x1="3349.4" y1="776.4" x2="3402.4" y2="776.4"/></g>
<circle cx="3375.9" cy="767.9" r="17.1" fill="#32cd32"/>
<g stroke="#32cd32" stroke-width="4.2" fill="none"><line x1="3411.0" y1="732.6" x2="3411.0" y2="743.9"/><line x1="3384.5" y1="732.6" x2="3437.5" y2="732.6"/><line x1="3384.5" y1="743.9" x2="3437.5" y2="743.9"/></g>
<circle cx="3411.0" cy="738.3" r="17.1" fill="#32cd32"/>
<g stroke="#32cd32" stroke-width="4.2" fill="none"><line x1="3446.2" y1="673.6" x2="3446.2" y2="700.1"/><line x1="3419.7" y1="673.6" x2="3472.7" y2="673.6"/><line x1="3419.7" y1="700.1" x2="3472.7" y2="700.1"/></g>
<circle cx="3446.2" cy="686.6" r="17.1" fill="#32cd32"/>
<g stroke="#32cd32" stroke-width="4.2" fill="none"><line x1="3481.5" y1="686.0" x2="3481.5" y2="702.5"/><line x1="3455.0" y1="686.0" x2="3508.0" y2="686.0"/><line x1="3455.0" y1="702.5" x2="3508.0" y2="702.5"/></g>
<circle cx="3481.5" cy="694.5" r="17.1" fill="#32cd32"/>
<g stroke="#32cd32" stroke-width="4.2" fill="none"><line x1="1305.8" y1="691.4" x2="1305.8" y2="925.1"/><line x1="1279.3" y1="691.4" x2="1332.3" y2="691.4"/><line x1="1279.3" y1="925.1" x2="1332.3" y2="925.1"/></g>
<circle cx="1305.8" cy="807.6" r="14.3" fill="#fff" stroke="#32cd32" stroke-width="5.6"/>
<g stroke="#32cd32" stroke-width="4.2" fill="none"><line x1="1481.9" y1="683.0" x2="1481.9" y2="823.8"/><line x1="1455.4" y1="683.0" x2="1508.4" y2="683.0"/><line x1="1455.4" y1="823.8" x2="1508.4" y2="823.8"/></g>
<circle cx="1481.9" cy="753.0" r="14.3" fill="#fff" stroke="#32cd32" stroke-width="5.6"/>
<g stroke="#32cd32" stroke-width="4.2" fill="none"><line x1="1517.1" y1="613.2" x2="1517.1" y2="832.0"/><line x1="1490.6" y1="613.2" x2="1543.6" y2="613.2"/><line x1="1490.6" y1="832.0" x2="1543.6" y2="832.0"/></g>
<circle cx="1517.1" cy="722.2" r="14.3" fill="#fff" stroke="#32cd32" stroke-width="5.6"/>
<g stroke="#32cd32" stroke-width="4.2" fill="none"><line x1="1587.3" y1="579.7" x2="1587.3" y2="837.7"/><line x1="1560.8" y1="579.7" x2="1613.8" y2="579.7"/><line x1="1560.8" y1="837.7" x2="1613.8" y2="837.7"/></g>
<circle cx="1587.3" cy="708.5" r="14.3" fill="#fff" stroke="#32cd32" stroke-width="5.6"/>
<g stroke="#32cd32" stroke-width="4.2" fill="none"><line x1="1622.5" y1="639.2" x2="1622.5" y2="802.8"/><line x1="1596.0" y1="639.2" x2="1649.0" y2="639.2"/><line x1="1596.0" y1="802.8" x2="1649.0" y2="802.8"/></g>
<circle cx="1622.5" cy="721.0" r="14.3" fill="#fff" stroke="#32cd32" stroke-width="5.6"/>
<g stroke="#32cd32" stroke-width="4.2" fill="none"><line x1="1657.6" y1="761.9" x2="1657.6" y2="882.3"/><line x1="1631.1" y1="761.9" x2="1684.1" y2="761.9"/><line x1="1631.1" y1="882.3" x2="1684.1" y2="882.3"/></g>
<circle cx="1657.6" cy="822.1" r="14.3" fill="#fff" stroke="#32cd32" stroke-width="5.6"/>
<g stroke="#32cd32" stroke-width="4.2" fill="none"><line x1="1763.5" y1="751.1" x2="1763.5" y2="873.8"/><line x1="1737.0" y1="751.1" x2="1790.0" y2="751.1"/><line x1="1737.0" y1="873.8" x2="1790.0" y2="873.8"/></g>
<circle cx="1763.5" cy="812.5" r="14.3" fill="#fff" stroke="#32cd32" stroke-width="5.6"/>
<g stroke="#32cd32" stroke-width="4.2" fill="none"><line x1="2002.9" y1="772.0" x2="2002.9" y2="839.7"/><line x1="1976.4" y1="772.0" x2="2029.4" y2="772.0"/><line x1="1976.4" y1="839.7" x2="2029.4" y2="839.7"/></g>
<circle cx="2002.9" cy="806.0" r="14.3" fill="#fff" stroke="#32cd32" stroke-width="5.6"/>
<g stroke="#32cd32" stroke-width="4.2" fill="none"><line x1="2144.0" y1="722.2" x2="2144.0" y2="866.6"/><line x1="2117.5" y1="722.2" x2="2170.5" y2="722.2"/><line x1="2117.5" y1="866.6" x2="2170.5" y2="866.6"/></g>
<circle cx="2144.0" cy="794.4" r="14.3" fill="#fff" stroke="#32cd32" stroke-width="5.6"/>
<g stroke="#0000ff" stroke-width="4.2" fill="none"><line x1="320.3" y1="558.5" x2="320.3" y2="563.5"/><line x1="293.8" y1="558.5" x2="346.8" y2="558.5"/><line x1="293.8" y1="563.5" x2="346.8" y2="563.5"/></g>
<circle cx="320.3" cy="561.0" r="17.1" fill="#0000ff"/>
<g stroke="#0000ff" stroke-width="4.2" fill="none"><line x1="1446.5" y1="557.8" x2="1446.5" y2="566.2"/><line x1="1420.0" y1="557.8" x2="1473.0" y2="557.8"/><line x1="1420.0" y1="566.2" x2="1473.0" y2="566.2"/></g>
<circle cx="1446.5" cy="562.2" r="17.1" fill="#0000ff"/>
<g stroke="#0000ff" stroke-width="4.2" fill="none"><line x1="1798.9" y1="578.3" x2="1798.9" y2="585.0"/><line x1="1772.4" y1="578.3" x2="1825.4" y2="578.3"/><line x1="1772.4" y1="585.0" x2="1825.4" y2="585.0"/></g>
<circle cx="1798.9" cy="581.4" r="17.1" fill="#0000ff"/>
<g stroke="#0000ff" stroke-width="4.2" fill="none"><line x1="1869.4" y1="587.4" x2="1869.4" y2="593.9"/><line x1="1842.9" y1="587.4" x2="1895.9" y2="587.4"/><line x1="1842.9" y1="593.9" x2="1895.9" y2="593.9"/></g>
<circle cx="1869.4" cy="591.0" r="17.1" fill="#0000ff"/>
<g stroke="#0000ff" stroke-width="4.2" fill="none"><line x1="1904.3" y1="584.3" x2="1904.3" y2="592.7"/><line x1="1877.8" y1="584.3" x2="1930.8" y2="584.3"/><line x1="1877.8" y1="592.7" x2="1930.8" y2="592.7"/></g>
<circle cx="1904.3" cy="587.9" r="17.1" fill="#0000ff"/>
<g stroke="#0000ff" stroke-width="4.2" fill="none"><line x1="2038.1" y1="613.2" x2="2038.1" y2="617.3"/><line x1="2011.6" y1="613.2" x2="2064.6" y2="613.2"/><line x1="2011.6" y1="617.3" x2="2064.6" y2="617.3"/></g>
<circle cx="2038.1" cy="614.4" r="17.1" fill="#0000ff"/>
<g stroke="#0000ff" stroke-width="4.2" fill="none"><line x1="2672.2" y1="734.2" x2="2672.2" y2="741.5"/><line x1="2645.7" y1="734.2" x2="2698.7" y2="734.2"/><line x1="2645.7" y1="741.5" x2="2698.7" y2="741.5"/></g>
<circle cx="2672.2" cy="737.9" r="17.1" fill="#0000ff"/>
<g stroke="#0000ff" stroke-width="4.2" fill="none"><line x1="2742.5" y1="730.0" x2="2742.5" y2="733.6"/><line x1="2716.0" y1="730.0" x2="2769.0" y2="730.0"/><line x1="2716.0" y1="733.6" x2="2769.0" y2="733.6"/></g>
<circle cx="2742.5" cy="731.8" r="17.1" fill="#0000ff"/>
<g stroke="#0000ff" stroke-width="4.2" fill="none"><line x1="3516.9" y1="689.7" x2="3516.9" y2="721.0"/><line x1="3490.4" y1="689.7" x2="3543.4" y2="689.7"/><line x1="3490.4" y1="721.0" x2="3543.4" y2="721.0"/></g>
<circle cx="3516.9" cy="705.4" r="17.1" fill="#0000ff"/>
<g stroke="#0000ff" stroke-width="4.2" fill="none"><line x1="1305.8" y1="486.8" x2="1305.8" y2="506.8"/><line x1="1279.3" y1="486.8" x2="1332.3" y2="486.8"/><line x1="1279.3" y1="506.8" x2="1332.3" y2="506.8"/></g>
<circle cx="1305.8" cy="496.7" r="14.3" fill="#fff" stroke="#0000ff" stroke-width="5.6"/>
<g stroke="#0000ff" stroke-width="4.2" fill="none"><line x1="1481.9" y1="489.9" x2="1481.9" y2="518.8"/><line x1="1455.4" y1="489.9" x2="1508.4" y2="489.9"/><line x1="1455.4" y1="518.8" x2="1508.4" y2="518.8"/></g>
<circle cx="1481.9" cy="504.4" r="14.3" fill="#fff" stroke="#0000ff" stroke-width="5.6"/>
<g stroke="#0000ff" stroke-width="4.2" fill="none"><line x1="1517.1" y1="489.9" x2="1517.1" y2="518.8"/><line x1="1490.6" y1="489.9" x2="1543.6" y2="489.9"/><line x1="1490.6" y1="518.8" x2="1543.6" y2="518.8"/></g>
<circle cx="1517.1" cy="504.4" r="14.3" fill="#fff" stroke="#0000ff" stroke-width="5.6"/>
<g stroke="#0000ff" stroke-width="4.2" fill="none"><line x1="1587.3" y1="524.8" x2="1587.3" y2="575.9"/><line x1="1560.8" y1="524.8" x2="1613.8" y2="524.8"/><line x1="1560.8" y1="575.9" x2="1613.8" y2="575.9"/></g>
<circle cx="1587.3" cy="550.6" r="14.3" fill="#fff" stroke="#0000ff" stroke-width="5.6"/>
<g stroke="#0000ff" stroke-width="4.2" fill="none"><line x1="1622.5" y1="524.8" x2="1622.5" y2="566.2"/><line x1="1596.0" y1="524.8" x2="1649.0" y2="524.8"/><line x1="1596.0" y1="566.2" x2="1649.0" y2="566.2"/></g>
<circle cx="1622.5" cy="546.3" r="14.3" fill="#fff" stroke="#0000ff" stroke-width="5.6"/>
<g stroke="#0000ff" stroke-width="4.2" fill="none"><line x1="1657.6" y1="537.4" x2="1657.6" y2="566.2"/><line x1="1631.1" y1="537.4" x2="1684.1" y2="537.4"/><line x1="1631.1" y1="566.2" x2="1684.1" y2="566.2"/></g>
<circle cx="1657.6" cy="551.8" r="14.3" fill="#fff" stroke="#0000ff" stroke-width="5.6"/>
<g stroke="#0000ff" stroke-width="4.2" fill="none"><line x1="1763.5" y1="555.7" x2="1763.5" y2="592.7"/><line x1="1737.0" y1="555.7" x2="1790.0" y2="555.7"/><line x1="1737.0" y1="592.7" x2="1790.0" y2="592.7"/></g>
<circle cx="1763.5" cy="574.2" r="14.3" fill="#fff" stroke="#0000ff" stroke-width="5.6"/>
<g stroke="#0000ff" stroke-width="4.2" fill="none"><line x1="2002.9" y1="514.5" x2="2002.9" y2="539.3"/><line x1="1976.4" y1="514.5" x2="2029.4" y2="514.5"/><line x1="1976.4" y1="539.3" x2="2029.4" y2="539.3"/></g>
<circle cx="2002.9" cy="527.0" r="14.3" fill="#fff" stroke="#0000ff" stroke-width="5.6"/>
<g stroke="#0000ff" stroke-width="4.2" fill="none"><line x1="2144.0" y1="563.1" x2="2144.0" y2="600.7"/><line x1="2117.5" y1="563.1" x2="2170.5" y2="563.1"/><line x1="2117.5" y1="600.7" x2="2170.5" y2="600.7"/></g>
<circle cx="2144.0" cy="581.9" r="14.3" fill="#fff" stroke="#0000ff" stroke-width="5.6"/>
</g>
<g fill="none" stroke="#000" stroke-width="4.1" stroke-linejoin="miter">
<polyline points="266.0,450.2 500.0,450.6 810.0,451.4 1100.0,453.0 1370.0,453.6 1561.8,456.3"/>
<polyline points="1667.7,456.7 1990.0,459.1 2250.0,460.8 2490.0,462.5 2800.0,469.5 3110.0,476.7 3400.0,481.5 3636.8,486.1"/>
<polyline points="266.0,593.4 490.0,594.6 700.0,598.0 870.0,601.0 1100.0,603.5 1430.0,606.7 1561.8,607.9"/>
<polyline points="1667.7,608.4 1990.0,611.5 2550.0,612.5 3110.0,616.8 3350.0,620.5 3636.8,626.4"/>
<polyline points="266.0,800.4 353.0,798.7 539.0,800.4 671.0,802.8 870.0,801.1 1090.0,799.5 1370.0,802.1 1561.8,803.6"/>
<polyline points="1667.7,804.0 1990.0,807.7 2550.0,808.9 2730.0,806.9 3110.0,806.0 3242.0,807.7 3363.0,808.9 3507.0,811.3 3580.0,816.0 3636.8,822.1"/>
<polyline points="266.0,870.7 500.0,870.2 590.0,867.0 671.0,863.0 760.0,862.5 810.0,863.7 969.0,867.8 1430.0,867.8 1500.0,869.5 1494.0,861.8 1488.0,859.9 1600.0,859.3 1713.0,858.9"/>
<polyline points="1818.9,857.5 1990.0,857.5 2231.0,858.2 2300.0,859.8 2408.7,861.8 2480.0,862.6 2517.4,864.9 2571.7,871.6 2548.4,874.3 2517.4,875.3 2466.1,875.8 2456.8,879.7 2439.8,884.3 2421.1,887.5 2369.1,887.8 2421.1,889.8 2455.3,891.3 2491.0,892.6 2634.0,891.4 2755.0,890.2 3050.0,894.0 3146.0,895.5 3230.0,897.4 3356.0,896.7 3435.0,897.4 3531.0,897.4 3604.0,896.0 3636.8,895.5"/>
</g>
<text class="lib" x="1566.5" y="477.7" font-size="58.33">230</text>
<text class="lib" x="1566.5" y="628.8" font-size="58.33">250</text>
<text class="lib" x="1566.5" y="824.5" font-size="58.33" transform="rotate(1.0 1613.5 804.5)">273</text>
<text class="lib" x="1718.2" y="877.6" font-size="58.33">279</text>
<g stroke="#000" stroke-width="6.0" fill="none" stroke-linecap="butt">
<line x1="266.2" y1="109.3" x2="266.2" y2="959.4"/>
<line x1="263.2" y1="956.4" x2="3639.6" y2="956.4"/>
<line x1="266.2" y1="112.30" x2="347.2" y2="112.30"/>
<line x1="266.2" y1="217.81" x2="347.2" y2="217.81"/>
<line x1="266.2" y1="323.32" x2="347.2" y2="323.32"/>
<line x1="266.2" y1="428.84" x2="347.2" y2="428.84"/>
<line x1="266.2" y1="534.35" x2="347.2" y2="534.35"/>
<line x1="266.2" y1="639.86" x2="347.2" y2="639.86"/>
<line x1="266.2" y1="745.38" x2="347.2" y2="745.38"/>
<line x1="266.2" y1="850.89" x2="347.2" y2="850.89"/>
<line x1="266.2" y1="956.40" x2="347.2" y2="956.40"/>
<line x1="266.20" y1="956.4" x2="266.20" y2="894.1"/>
<line x1="336.42" y1="956.4" x2="336.42" y2="923.9"/>
<line x1="406.63" y1="956.4" x2="406.63" y2="923.9"/>
<line x1="476.85" y1="956.4" x2="476.85" y2="923.9"/>
<line x1="547.07" y1="956.4" x2="547.07" y2="894.1"/>
<line x1="617.28" y1="956.4" x2="617.28" y2="923.9"/>
<line x1="687.50" y1="956.4" x2="687.50" y2="923.9"/>
<line x1="757.72" y1="956.4" x2="757.72" y2="923.9"/>
<line x1="827.93" y1="956.4" x2="827.93" y2="894.1"/>
<line x1="898.15" y1="956.4" x2="898.15" y2="923.9"/>
<line x1="968.37" y1="956.4" x2="968.37" y2="923.9"/>
<line x1="1038.58" y1="956.4" x2="1038.58" y2="923.9"/>
<line x1="1108.80" y1="956.4" x2="1108.80" y2="894.1"/>
<line x1="1179.02" y1="956.4" x2="1179.02" y2="923.9"/>
<line x1="1249.23" y1="956.4" x2="1249.23" y2="923.9"/>
<line x1="1319.45" y1="956.4" x2="1319.45" y2="923.9"/>
<line x1="1389.67" y1="956.4" x2="1389.67" y2="894.1"/>
<line x1="1459.88" y1="956.4" x2="1459.88" y2="923.9"/>
<line x1="1530.10" y1="956.4" x2="1530.10" y2="923.9"/>
<line x1="1600.32" y1="956.4" x2="1600.32" y2="923.9"/>
<line x1="1670.53" y1="956.4" x2="1670.53" y2="894.1"/>
<line x1="1740.75" y1="956.4" x2="1740.75" y2="923.9"/>
<line x1="1810.97" y1="956.4" x2="1810.97" y2="923.9"/>
<line x1="1881.18" y1="956.4" x2="1881.18" y2="923.9"/>
<line x1="1951.40" y1="956.4" x2="1951.40" y2="894.1"/>
<line x1="2021.62" y1="956.4" x2="2021.62" y2="923.9"/>
<line x1="2091.83" y1="956.4" x2="2091.83" y2="923.9"/>
<line x1="2162.05" y1="956.4" x2="2162.05" y2="923.9"/>
<line x1="2232.27" y1="956.4" x2="2232.27" y2="894.1"/>
<line x1="2302.48" y1="956.4" x2="2302.48" y2="923.9"/>
<line x1="2372.70" y1="956.4" x2="2372.70" y2="923.9"/>
<line x1="2442.92" y1="956.4" x2="2442.92" y2="923.9"/>
<line x1="2513.13" y1="956.4" x2="2513.13" y2="894.1"/>
<line x1="2583.35" y1="956.4" x2="2583.35" y2="923.9"/>
<line x1="2653.57" y1="956.4" x2="2653.57" y2="923.9"/>
<line x1="2723.78" y1="956.4" x2="2723.78" y2="923.9"/>
<line x1="2794.00" y1="956.4" x2="2794.00" y2="894.1"/>
<line x1="2864.22" y1="956.4" x2="2864.22" y2="923.9"/>
<line x1="2934.43" y1="956.4" x2="2934.43" y2="923.9"/>
<line x1="3004.65" y1="956.4" x2="3004.65" y2="923.9"/>
<line x1="3074.87" y1="956.4" x2="3074.87" y2="894.1"/>
<line x1="3145.08" y1="956.4" x2="3145.08" y2="923.9"/>
<line x1="3215.30" y1="956.4" x2="3215.30" y2="923.9"/>
<line x1="3285.52" y1="956.4" x2="3285.52" y2="923.9"/>
<line x1="3355.73" y1="956.4" x2="3355.73" y2="894.1"/>
<line x1="3425.95" y1="956.4" x2="3425.95" y2="923.9"/>
<line x1="3496.17" y1="956.4" x2="3496.17" y2="923.9"/>
<line x1="3566.38" y1="956.4" x2="3566.38" y2="923.9"/>
<line x1="3636.60" y1="956.4" x2="3636.60" y2="894.1"/>
</g>
<text x="232.5" y="136.5" font-size="66.67" text-anchor="end">16.0</text>
<text x="232.5" y="242.0" font-size="66.67" text-anchor="end">14.1</text>
<text x="232.5" y="347.5" font-size="66.67" text-anchor="end">12.1</text>
<text x="232.5" y="453.0" font-size="66.67" text-anchor="end">10.1</text>
<text x="232.5" y="558.6" font-size="66.67" text-anchor="end">8.17</text>
<text x="232.5" y="664.1" font-size="66.67" text-anchor="end">6.19</text>
<text x="232.5" y="769.6" font-size="66.67" text-anchor="end">4.21</text>
<text x="232.5" y="875.1" font-size="66.67" text-anchor="end">2.23</text>
<text x="232.5" y="980.6" font-size="66.67" text-anchor="end">0.25</text>
<text x="266.2" y="1036.5" font-size="75.0" text-anchor="middle">0</text>
<text x="547.1" y="1036.5" font-size="75.0" text-anchor="middle">2</text>
<text x="827.9" y="1036.5" font-size="75.0" text-anchor="middle">4</text>
<text x="1108.8" y="1036.5" font-size="75.0" text-anchor="middle">6</text>
<text x="1389.7" y="1036.5" font-size="75.0" text-anchor="middle">8</text>
<text x="1670.5" y="1036.5" font-size="75.0" text-anchor="middle">10</text>
<text x="1951.4" y="1036.5" font-size="75.0" text-anchor="middle">12</text>
<text x="2232.3" y="1036.5" font-size="75.0" text-anchor="middle">14</text>
<text x="2513.1" y="1036.5" font-size="75.0" text-anchor="middle">16</text>
<text x="2794.0" y="1036.5" font-size="75.0" text-anchor="middle">18</text>
<text x="3074.9" y="1036.5" font-size="75.0" text-anchor="middle">20</text>
<text x="3355.7" y="1036.5" font-size="75.0" text-anchor="middle">22</text>
<text x="3636.6" y="1036.5" font-size="75.0" text-anchor="middle">24</text>
<text x="1952.5" y="1116.3" font-size="75.0" text-anchor="middle">Time (UTC)</text>
<text transform="translate(35,534.3) rotate(-90)" font-size="66.67" text-anchor="middle">Height AMSL (km)</text>
<text class="lib" x="1951.5" y="76.9" font-size="100.8" text-anchor="middle">Lindenberg: 2025/10/08</text>
<rect x="266.2" y="1144.4" width="3370.4" height="55.299999999999955" fill="url(#cb)"/>
<g stroke="#000" stroke-width="6.0" fill="none">
<line x1="263.2" y1="1199.7" x2="3639.6" y2="1199.7"/>
<line x1="266.20" y1="1199.7" x2="266.20" y2="1183.0"/>
<line x1="378.55" y1="1199.7" x2="378.55" y2="1189.5"/>
<line x1="490.89" y1="1199.7" x2="490.89" y2="1189.5"/>
<line x1="603.24" y1="1199.7" x2="603.24" y2="1189.5"/>
<line x1="715.59" y1="1199.7" x2="715.59" y2="1189.5"/>
<line x1="827.93" y1="1199.7" x2="827.93" y2="1189.5"/>
<line x1="940.28" y1="1199.7" x2="940.28" y2="1189.5"/>
<line x1="1052.63" y1="1199.7" x2="1052.63" y2="1189.5"/>
<line x1="1164.97" y1="1199.7" x2="1164.97" y2="1189.5"/>
<line x1="1277.32" y1="1199.7" x2="1277.32" y2="1189.5"/>
<line x1="1389.67" y1="1199.7" x2="1389.67" y2="1183.0"/>
<line x1="1502.01" y1="1199.7" x2="1502.01" y2="1189.5"/>
<line x1="1614.36" y1="1199.7" x2="1614.36" y2="1189.5"/>
<line x1="1726.71" y1="1199.7" x2="1726.71" y2="1189.5"/>
<line x1="1839.05" y1="1199.7" x2="1839.05" y2="1189.5"/>
<line x1="1951.40" y1="1199.7" x2="1951.40" y2="1189.5"/>
<line x1="2063.75" y1="1199.7" x2="2063.75" y2="1189.5"/>
<line x1="2176.09" y1="1199.7" x2="2176.09" y2="1189.5"/>
<line x1="2288.44" y1="1199.7" x2="2288.44" y2="1189.5"/>
<line x1="2400.79" y1="1199.7" x2="2400.79" y2="1189.5"/>
<line x1="2513.13" y1="1199.7" x2="2513.13" y2="1183.0"/>
<line x1="2625.48" y1="1199.7" x2="2625.48" y2="1189.5"/>
<line x1="2737.83" y1="1199.7" x2="2737.83" y2="1189.5"/>
<line x1="2850.17" y1="1199.7" x2="2850.17" y2="1189.5"/>
<line x1="2962.52" y1="1199.7" x2="2962.52" y2="1189.5"/>
<line x1="3074.87" y1="1199.7" x2="3074.87" y2="1189.5"/>
<line x1="3187.21" y1="1199.7" x2="3187.21" y2="1189.5"/>
<line x1="3299.56" y1="1199.7" x2="3299.56" y2="1189.5"/>
<line x1="3411.91" y1="1199.7" x2="3411.91" y2="1189.5"/>
<line x1="3524.25" y1="1199.7" x2="3524.25" y2="1189.5"/>
<line x1="3636.60" y1="1199.7" x2="3636.60" y2="1183.0"/>
</g>
<text x="257.2" y="1263.3" font-size="58.33" text-anchor="middle">Clear</text>
<text x="1389.7" y="1263.3" font-size="58.33" text-anchor="middle">Water</text>
<text x="2513.1" y="1263.3" font-size="58.33" text-anchor="middle">Ice</text>
<text x="3636.6" y="1263.3" font-size="58.33" text-anchor="middle">Other</text>
<rect x="249.5" y="1313.5" width="650.5" height="333.9000000000001" fill="#fff" stroke="#000" stroke-width="6.0"/>
<rect x="993.7" y="1313.5" width="618.3" height="333.9000000000001" fill="#fff" stroke="#000" stroke-width="6.0"/>
<rect x="2328" y="1312.8" width="559.8000000000002" height="402.4000000000001" fill="#fff" stroke="#000" stroke-width="6.0"/>
<circle cx="286.8" cy="1383.7" r="17.1" fill="#32cd32"/>
<circle cx="286.8" cy="1471.0" r="14.3" fill="#fff" stroke="#32cd32" stroke-width="5.6"/>
<path d="M270.5,1550.2L303.1,1582.8M270.5,1582.8L303.1,1550.2" stroke="#32cd32" stroke-width="5.2" fill="none"/>
<text x="323" y="1405.2" font-size="58.33">SEV-OCA SL Wat</text>
<text x="323" y="1491.4" font-size="58.33">SEV-OCA 2L Wat</text>
<text x="323" y="1586.9" font-size="58.33">OCA High Err Wat</text>
<circle cx="1031.0" cy="1383.7" r="17.1" fill="#0000ff"/>
<circle cx="1031.0" cy="1471.0" r="14.3" fill="#fff" stroke="#0000ff" stroke-width="5.6"/>
<path d="M1014.7,1550.2L1047.3,1582.8M1014.7,1582.8L1047.3,1550.2" stroke="#0000ff" stroke-width="5.2" fill="none"/>
<text x="1067.2" y="1405.2" font-size="58.33">SEV-OCA SL Ice</text>
<text x="1067.2" y="1491.4" font-size="58.33">SEV-OCA 2L Ice</text>
<text x="1067.2" y="1586.9" font-size="58.33">OCA High Err Ice</text>
<polygon fill="#ff0000" points="2364.8,1363.8 2347.3,1393.8 2382.3,1393.8"/>
<polygon fill="#ff0000" points="2364.8,1490.0 2347.3,1460.0 2382.3,1460.0"/>
<polygon fill="#fff" stroke="#ff0000" stroke-width="5.3" stroke-miterlimit="10" points="2364.8,1542.5 2352.2,1564.2 2377.4,1564.2"/>
<polygon fill="#fff" stroke="#ff0000" stroke-width="5.3" stroke-miterlimit="10" points="2364.8,1657.3 2352.2,1635.5 2377.4,1635.5"/>
<text x="2403.6" y="1406" font-size="58.33">ACTRIS CBH</text>
<text x="2403.6" y="1492.5" font-size="58.33">ACTRIS CTH</text>
<text x="2403.6" y="1579" font-size="58.33">ACTRIS CBH BL</text>
<text x="2403.6" y="1665" font-size="58.33">ACTRIS CTH BL</text>
</svg></body></html>
